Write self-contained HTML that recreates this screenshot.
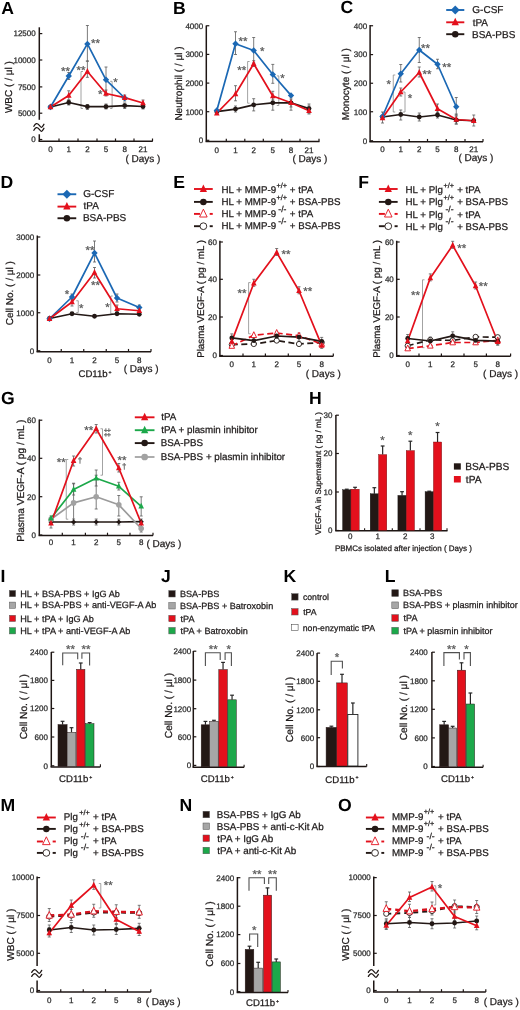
<!DOCTYPE html>
<html><head><meta charset="utf-8"><title>Figure</title>
<style>html,body{margin:0;padding:0;background:#fff;}svg{display:block;will-change:transform;}
text{font-family:"Liberation Sans", sans-serif;text-rendering:geometricPrecision;}</style></head>
<body><svg width="520" height="1010" viewBox="0 0 520 1010">
<rect width="520" height="1010" fill="#fff"/>
<text x="1.16" y="13.71" font-size="17.6" font-weight="bold" fill="#000">A</text>
<line x1="39.3" y1="27.3" x2="39.3" y2="119.8" stroke="#1e1614" stroke-width="1.5"/>
<line x1="39.3" y1="134.3" x2="39.3" y2="141.3" stroke="#1e1614" stroke-width="1.5"/>
<path d="M33.9 126.3 C35.3 123.5 36.9 122.4 39.3 125.3 S41.5 128.2 43.9 124.3" fill="none" stroke="#1e1614" stroke-width="1.3" stroke-linecap="round"/>
<path d="M33.9 130.3 C35.3 127.5 36.9 126.4 39.3 129.3 S41.5 132.2 43.9 128.3" fill="none" stroke="#1e1614" stroke-width="1.3" stroke-linecap="round"/>
<line x1="39.3" y1="33.6" x2="42.3" y2="33.6" stroke="#1e1614" stroke-width="1.2"/>
<text x="13.47" y="36.4" font-size="8" fill="#2a2a2a" stroke="#2a2a2a" stroke-width="0.25">12500</text>
<line x1="39.3" y1="60" x2="42.3" y2="60" stroke="#1e1614" stroke-width="1.2"/>
<text x="13.47" y="62.8" font-size="8" fill="#2a2a2a" stroke="#2a2a2a" stroke-width="0.25">10000</text>
<line x1="39.3" y1="86.9" x2="42.3" y2="86.9" stroke="#1e1614" stroke-width="1.2"/>
<text x="17.92" y="89.7" font-size="8" fill="#2a2a2a" stroke="#2a2a2a" stroke-width="0.25">7500</text>
<line x1="39.3" y1="113.2" x2="42.3" y2="113.2" stroke="#1e1614" stroke-width="1.2"/>
<text x="17.92" y="116" font-size="8" fill="#2a2a2a" stroke="#2a2a2a" stroke-width="0.25">5000</text>
<line x1="39.3" y1="139.5" x2="42.3" y2="139.5" stroke="#1e1614" stroke-width="1.2"/>
<text x="31.26" y="142.3" font-size="8" fill="#2a2a2a" stroke="#2a2a2a" stroke-width="0.25">0</text>
<line x1="38.55" y1="141.3" x2="152.7" y2="141.3" stroke="#1e1614" stroke-width="1.5"/>
<line x1="59" y1="141.3" x2="59" y2="138.5" stroke="#1e1614" stroke-width="1.2"/>
<line x1="78" y1="141.3" x2="78" y2="138.5" stroke="#1e1614" stroke-width="1.2"/>
<line x1="97" y1="141.3" x2="97" y2="138.5" stroke="#1e1614" stroke-width="1.2"/>
<line x1="115.5" y1="141.3" x2="115.5" y2="138.5" stroke="#1e1614" stroke-width="1.2"/>
<line x1="134" y1="141.3" x2="134" y2="138.5" stroke="#1e1614" stroke-width="1.2"/>
<line x1="152.5" y1="141.3" x2="152.5" y2="138.5" stroke="#1e1614" stroke-width="1.2"/>
<text x="48.28" y="152.1" font-size="8" fill="#2a2a2a" stroke="#2a2a2a" stroke-width="0.25">0</text>
<text x="66.42" y="152.1" font-size="8" fill="#2a2a2a" stroke="#2a2a2a" stroke-width="0.25">1</text>
<text x="85.18" y="152.1" font-size="8" fill="#2a2a2a" stroke="#2a2a2a" stroke-width="0.25">2</text>
<text x="103.78" y="152.1" font-size="8" fill="#2a2a2a" stroke="#2a2a2a" stroke-width="0.25">5</text>
<text x="122.48" y="152.1" font-size="8" fill="#2a2a2a" stroke="#2a2a2a" stroke-width="0.25">8</text>
<text x="138.54" y="152.1" font-size="8" fill="#2a2a2a" stroke="#2a2a2a" stroke-width="0.25">21</text>
<text x="125.38" y="161.5" font-size="10" fill="#1e1a1a" stroke="#1e1a1a" stroke-width="0.25">( Days )</text>
<text x="0" y="0" font-size="10" fill="#1e1a1a" transform="translate(11.74 113.09) rotate(-90)" stroke="#1e1a1a" stroke-width="0.25">WBC ( / μl )</text>
<line x1="87.4" y1="25.5" x2="87.4" y2="61" stroke="#5a5a5a" stroke-width="0.8"/>
<line x1="85.9" y1="25.5" x2="88.9" y2="25.5" stroke="#5a5a5a" stroke-width="0.8"/>
<line x1="85.9" y1="61" x2="88.9" y2="61" stroke="#5a5a5a" stroke-width="0.8"/>
<line x1="68.75" y1="72.5" x2="68.75" y2="79.5" stroke="#5a5a5a" stroke-width="0.8"/>
<line x1="67.25" y1="72.5" x2="70.25" y2="72.5" stroke="#5a5a5a" stroke-width="0.8"/>
<line x1="67.25" y1="79.5" x2="70.25" y2="79.5" stroke="#5a5a5a" stroke-width="0.8"/>
<line x1="106" y1="67" x2="106" y2="93.5" stroke="#5a5a5a" stroke-width="0.8"/>
<line x1="104.5" y1="67" x2="107.5" y2="67" stroke="#5a5a5a" stroke-width="0.8"/>
<line x1="104.5" y1="93.5" x2="107.5" y2="93.5" stroke="#5a5a5a" stroke-width="0.8"/>
<line x1="124.7" y1="95" x2="124.7" y2="101" stroke="#5a5a5a" stroke-width="0.8"/>
<line x1="123.2" y1="95" x2="126.2" y2="95" stroke="#5a5a5a" stroke-width="0.8"/>
<line x1="123.2" y1="101" x2="126.2" y2="101" stroke="#5a5a5a" stroke-width="0.8"/>
<line x1="87.4" y1="61.2" x2="87.4" y2="77.3" stroke="#5a5a5a" stroke-width="0.8"/>
<line x1="85.9" y1="61.2" x2="88.9" y2="61.2" stroke="#5a5a5a" stroke-width="0.8"/>
<line x1="85.9" y1="77.3" x2="88.9" y2="77.3" stroke="#5a5a5a" stroke-width="0.8"/>
<line x1="68.75" y1="90.8" x2="68.75" y2="100" stroke="#5a5a5a" stroke-width="0.8"/>
<line x1="67.25" y1="90.8" x2="70.25" y2="90.8" stroke="#5a5a5a" stroke-width="0.8"/>
<line x1="67.25" y1="100" x2="70.25" y2="100" stroke="#5a5a5a" stroke-width="0.8"/>
<line x1="106" y1="90" x2="106" y2="96" stroke="#5a5a5a" stroke-width="0.8"/>
<line x1="104.5" y1="90" x2="107.5" y2="90" stroke="#5a5a5a" stroke-width="0.8"/>
<line x1="104.5" y1="96" x2="107.5" y2="96" stroke="#5a5a5a" stroke-width="0.8"/>
<line x1="143" y1="100" x2="143" y2="107" stroke="#5a5a5a" stroke-width="0.8"/>
<line x1="141.5" y1="100" x2="144.5" y2="100" stroke="#5a5a5a" stroke-width="0.8"/>
<line x1="141.5" y1="107" x2="144.5" y2="107" stroke="#5a5a5a" stroke-width="0.8"/>
<line x1="68.75" y1="100" x2="68.75" y2="105" stroke="#5a5a5a" stroke-width="0.8"/>
<line x1="67.25" y1="100" x2="70.25" y2="100" stroke="#5a5a5a" stroke-width="0.8"/>
<line x1="67.25" y1="105" x2="70.25" y2="105" stroke="#5a5a5a" stroke-width="0.8"/>
<line x1="87.4" y1="104.5" x2="87.4" y2="109.5" stroke="#5a5a5a" stroke-width="0.8"/>
<line x1="85.9" y1="104.5" x2="88.9" y2="104.5" stroke="#5a5a5a" stroke-width="0.8"/>
<line x1="85.9" y1="109.5" x2="88.9" y2="109.5" stroke="#5a5a5a" stroke-width="0.8"/>
<line x1="106" y1="104" x2="106" y2="109" stroke="#5a5a5a" stroke-width="0.8"/>
<line x1="104.5" y1="104" x2="107.5" y2="104" stroke="#5a5a5a" stroke-width="0.8"/>
<line x1="104.5" y1="109" x2="107.5" y2="109" stroke="#5a5a5a" stroke-width="0.8"/>
<line x1="124.7" y1="103" x2="124.7" y2="108.5" stroke="#5a5a5a" stroke-width="0.8"/>
<line x1="123.2" y1="103" x2="126.2" y2="103" stroke="#5a5a5a" stroke-width="0.8"/>
<line x1="123.2" y1="108.5" x2="126.2" y2="108.5" stroke="#5a5a5a" stroke-width="0.8"/>
<line x1="143" y1="104" x2="143" y2="109" stroke="#5a5a5a" stroke-width="0.8"/>
<line x1="141.5" y1="104" x2="144.5" y2="104" stroke="#5a5a5a" stroke-width="0.8"/>
<line x1="141.5" y1="109" x2="144.5" y2="109" stroke="#5a5a5a" stroke-width="0.8"/>
<path d="M83 71.5H81V108.5H83" fill="none" stroke="#8c8c8c" stroke-width="0.8"/>
<path d="M110.1 81.3H112.1V108.5H110.1" fill="none" stroke="#8c8c8c" stroke-width="0.8"/>
<polyline points="50.5,107 68.75,102.5 87.4,106.7 106,106.7 124.7,105.6 143,106.5" fill="none" stroke="#231815" stroke-width="1.7" stroke-linejoin="round"/>
<polyline points="50.5,107 68.75,76 87.4,43.9 106,79.8 124.7,98" fill="none" stroke="#1b68b4" stroke-width="1.7" stroke-linejoin="round"/>
<polyline points="50.5,107 68.75,95.5 87.4,71.5 106,93.5 124.7,97.6 143,103" fill="none" stroke="#e3101c" stroke-width="1.7" stroke-linejoin="round"/>
<circle cx="50.5" cy="107" r="2.4" fill="#231815"/>
<circle cx="68.75" cy="102.5" r="2.4" fill="#231815"/>
<circle cx="87.4" cy="106.7" r="2.4" fill="#231815"/>
<circle cx="106" cy="106.7" r="2.4" fill="#231815"/>
<circle cx="124.7" cy="105.6" r="2.4" fill="#231815"/>
<circle cx="143" cy="106.5" r="2.4" fill="#231815"/>
<path d="M50.5 103.8L53.7 107L50.5 110.2L47.3 107Z" fill="#1b68b4"/>
<path d="M68.75 72.8L71.95 76L68.75 79.2L65.55 76Z" fill="#1b68b4"/>
<path d="M87.4 40.7L90.6 43.9L87.4 47.1L84.2 43.9Z" fill="#1b68b4"/>
<path d="M106 76.6L109.2 79.8L106 83L102.8 79.8Z" fill="#1b68b4"/>
<path d="M124.7 94.8L127.9 98L124.7 101.2L121.5 98Z" fill="#1b68b4"/>
<path d="M50.5 103.52L53.3 109.32L47.7 109.32Z" fill="#e3101c"/>
<path d="M68.75 92.02L71.55 97.82L65.95 97.82Z" fill="#e3101c"/>
<path d="M87.4 68.02L90.2 73.82L84.6 73.82Z" fill="#e3101c"/>
<path d="M106 90.02L108.8 95.82L103.2 95.82Z" fill="#e3101c"/>
<path d="M124.7 94.12L127.5 99.92L121.9 99.92Z" fill="#e3101c"/>
<path d="M143 99.52L145.8 105.32L140.2 105.32Z" fill="#e3101c"/>
<text x="91.02" y="46.7" font-size="11.5" fill="#585858" stroke="#585858" stroke-width="0.25">**</text>
<text x="61.02" y="75.4" font-size="11.5" fill="#585858" stroke="#585858" stroke-width="0.25">**</text>
<text x="76.62" y="74.1" font-size="11.5" fill="#585858" stroke="#585858" stroke-width="0.25">**</text>
<text x="113.36" y="85.7" font-size="11.5" fill="#585858" stroke="#585858" stroke-width="0.25">*</text>
<text x="97.96" y="98.2" font-size="11.5" fill="#585858" stroke="#585858" stroke-width="0.25">*</text>
<text x="172.92" y="13.71" font-size="17.6" font-weight="bold" fill="#000">B</text>
<line x1="206.3" y1="25.5" x2="206.3" y2="141.5" stroke="#1e1614" stroke-width="1.5"/>
<line x1="206.3" y1="25.75" x2="209.3" y2="25.75" stroke="#1e1614" stroke-width="1.2"/>
<text x="185.42" y="28.55" font-size="8" fill="#2a2a2a" stroke="#2a2a2a" stroke-width="0.25">4000</text>
<line x1="206.3" y1="54.4" x2="209.3" y2="54.4" stroke="#1e1614" stroke-width="1.2"/>
<text x="185.42" y="57.2" font-size="8" fill="#2a2a2a" stroke="#2a2a2a" stroke-width="0.25">3000</text>
<line x1="206.3" y1="83.1" x2="209.3" y2="83.1" stroke="#1e1614" stroke-width="1.2"/>
<text x="185.42" y="85.9" font-size="8" fill="#2a2a2a" stroke="#2a2a2a" stroke-width="0.25">2000</text>
<line x1="206.3" y1="111.7" x2="209.3" y2="111.7" stroke="#1e1614" stroke-width="1.2"/>
<text x="185.42" y="114.5" font-size="8" fill="#2a2a2a" stroke="#2a2a2a" stroke-width="0.25">1000</text>
<line x1="206.3" y1="140.3" x2="209.3" y2="140.3" stroke="#1e1614" stroke-width="1.2"/>
<text x="198.76" y="143.1" font-size="8" fill="#2a2a2a" stroke="#2a2a2a" stroke-width="0.25">0</text>
<line x1="205.55" y1="141.5" x2="319.5" y2="141.5" stroke="#1e1614" stroke-width="1.5"/>
<line x1="226.3" y1="141.5" x2="226.3" y2="138.7" stroke="#1e1614" stroke-width="1.2"/>
<line x1="244.8" y1="141.5" x2="244.8" y2="138.7" stroke="#1e1614" stroke-width="1.2"/>
<line x1="263.3" y1="141.5" x2="263.3" y2="138.7" stroke="#1e1614" stroke-width="1.2"/>
<line x1="281.8" y1="141.5" x2="281.8" y2="138.7" stroke="#1e1614" stroke-width="1.2"/>
<line x1="300" y1="141.5" x2="300" y2="138.7" stroke="#1e1614" stroke-width="1.2"/>
<line x1="319" y1="141.5" x2="319" y2="138.7" stroke="#1e1614" stroke-width="1.2"/>
<text x="214.58" y="152.8" font-size="8" fill="#2a2a2a" stroke="#2a2a2a" stroke-width="0.25">0</text>
<text x="233.17" y="152.8" font-size="8" fill="#2a2a2a" stroke="#2a2a2a" stroke-width="0.25">1</text>
<text x="251.48" y="152.8" font-size="8" fill="#2a2a2a" stroke="#2a2a2a" stroke-width="0.25">2</text>
<text x="270.58" y="152.8" font-size="8" fill="#2a2a2a" stroke="#2a2a2a" stroke-width="0.25">5</text>
<text x="288.78" y="152.8" font-size="8" fill="#2a2a2a" stroke="#2a2a2a" stroke-width="0.25">8</text>
<text x="304.54" y="152.8" font-size="8" fill="#2a2a2a" stroke="#2a2a2a" stroke-width="0.25">21</text>
<text x="292.38" y="161.5" font-size="10" fill="#1e1a1a" stroke="#1e1a1a" stroke-width="0.25">( Days )</text>
<text x="0" y="0" font-size="10" fill="#1e1a1a" transform="translate(181.69 120.61) rotate(-90)" stroke="#1e1a1a" stroke-width="0.25">Neutrophil ( / μl )</text>
<line x1="235.5" y1="31.75" x2="235.5" y2="54.5" stroke="#5a5a5a" stroke-width="0.8"/>
<line x1="234" y1="31.75" x2="237" y2="31.75" stroke="#5a5a5a" stroke-width="0.8"/>
<line x1="234" y1="54.5" x2="237" y2="54.5" stroke="#5a5a5a" stroke-width="0.8"/>
<line x1="253.7" y1="37.5" x2="253.7" y2="63" stroke="#5a5a5a" stroke-width="0.8"/>
<line x1="252.2" y1="37.5" x2="255.2" y2="37.5" stroke="#5a5a5a" stroke-width="0.8"/>
<line x1="252.2" y1="63" x2="255.2" y2="63" stroke="#5a5a5a" stroke-width="0.8"/>
<line x1="272.8" y1="64.4" x2="272.8" y2="83.3" stroke="#5a5a5a" stroke-width="0.8"/>
<line x1="271.3" y1="64.4" x2="274.3" y2="64.4" stroke="#5a5a5a" stroke-width="0.8"/>
<line x1="271.3" y1="83.3" x2="274.3" y2="83.3" stroke="#5a5a5a" stroke-width="0.8"/>
<line x1="235.5" y1="85.7" x2="235.5" y2="100.8" stroke="#5a5a5a" stroke-width="0.8"/>
<line x1="234" y1="85.7" x2="237" y2="85.7" stroke="#5a5a5a" stroke-width="0.8"/>
<line x1="234" y1="100.8" x2="237" y2="100.8" stroke="#5a5a5a" stroke-width="0.8"/>
<line x1="253.7" y1="60.7" x2="253.7" y2="66.5" stroke="#5a5a5a" stroke-width="0.8"/>
<line x1="252.2" y1="60.7" x2="255.2" y2="60.7" stroke="#5a5a5a" stroke-width="0.8"/>
<line x1="252.2" y1="66.5" x2="255.2" y2="66.5" stroke="#5a5a5a" stroke-width="0.8"/>
<line x1="272.8" y1="91.3" x2="272.8" y2="100" stroke="#5a5a5a" stroke-width="0.8"/>
<line x1="271.3" y1="91.3" x2="274.3" y2="91.3" stroke="#5a5a5a" stroke-width="0.8"/>
<line x1="271.3" y1="100" x2="274.3" y2="100" stroke="#5a5a5a" stroke-width="0.8"/>
<line x1="291" y1="99" x2="291" y2="107" stroke="#5a5a5a" stroke-width="0.8"/>
<line x1="289.5" y1="99" x2="292.5" y2="99" stroke="#5a5a5a" stroke-width="0.8"/>
<line x1="289.5" y1="107" x2="292.5" y2="107" stroke="#5a5a5a" stroke-width="0.8"/>
<line x1="309" y1="106" x2="309" y2="114" stroke="#5a5a5a" stroke-width="0.8"/>
<line x1="307.5" y1="106" x2="310.5" y2="106" stroke="#5a5a5a" stroke-width="0.8"/>
<line x1="307.5" y1="114" x2="310.5" y2="114" stroke="#5a5a5a" stroke-width="0.8"/>
<line x1="235.5" y1="106" x2="235.5" y2="112" stroke="#5a5a5a" stroke-width="0.8"/>
<line x1="234" y1="106" x2="237" y2="106" stroke="#5a5a5a" stroke-width="0.8"/>
<line x1="234" y1="112" x2="237" y2="112" stroke="#5a5a5a" stroke-width="0.8"/>
<line x1="253.7" y1="98.7" x2="253.7" y2="110.9" stroke="#5a5a5a" stroke-width="0.8"/>
<line x1="252.2" y1="98.7" x2="255.2" y2="98.7" stroke="#5a5a5a" stroke-width="0.8"/>
<line x1="252.2" y1="110.9" x2="255.2" y2="110.9" stroke="#5a5a5a" stroke-width="0.8"/>
<line x1="272.8" y1="96.7" x2="272.8" y2="110.2" stroke="#5a5a5a" stroke-width="0.8"/>
<line x1="271.3" y1="96.7" x2="274.3" y2="96.7" stroke="#5a5a5a" stroke-width="0.8"/>
<line x1="271.3" y1="110.2" x2="274.3" y2="110.2" stroke="#5a5a5a" stroke-width="0.8"/>
<line x1="291" y1="97" x2="291" y2="110.2" stroke="#5a5a5a" stroke-width="0.8"/>
<line x1="289.5" y1="97" x2="292.5" y2="97" stroke="#5a5a5a" stroke-width="0.8"/>
<line x1="289.5" y1="110.2" x2="292.5" y2="110.2" stroke="#5a5a5a" stroke-width="0.8"/>
<line x1="309" y1="104" x2="309" y2="113" stroke="#5a5a5a" stroke-width="0.8"/>
<line x1="307.5" y1="104" x2="310.5" y2="104" stroke="#5a5a5a" stroke-width="0.8"/>
<line x1="307.5" y1="113" x2="310.5" y2="113" stroke="#5a5a5a" stroke-width="0.8"/>
<path d="M249.6 61.5H247.6V103.2H249.6" fill="none" stroke="#8c8c8c" stroke-width="0.8"/>
<path d="M276.8 75.9H278.8V105.5H276.8" fill="none" stroke="#8c8c8c" stroke-width="0.8"/>
<polyline points="216.8,111.7 235.5,109.1 253.7,104.8 272.8,102.8 291,102.8 309,108.6" fill="none" stroke="#231815" stroke-width="1.7" stroke-linejoin="round"/>
<polyline points="216.8,110.5 235.5,43.75 253.7,50.5 272.8,74.5 291,95.4" fill="none" stroke="#1b68b4" stroke-width="1.7" stroke-linejoin="round"/>
<polyline points="216.8,113.2 235.5,94 253.7,63.7 272.8,96 291,102.8 309,110.8" fill="none" stroke="#e3101c" stroke-width="1.7" stroke-linejoin="round"/>
<circle cx="216.8" cy="111.7" r="2.4" fill="#231815"/>
<circle cx="235.5" cy="109.1" r="2.4" fill="#231815"/>
<circle cx="253.7" cy="104.8" r="2.4" fill="#231815"/>
<circle cx="272.8" cy="102.8" r="2.4" fill="#231815"/>
<circle cx="291" cy="102.8" r="2.4" fill="#231815"/>
<circle cx="309" cy="108.6" r="2.4" fill="#231815"/>
<path d="M216.8 107.3L220 110.5L216.8 113.7L213.6 110.5Z" fill="#1b68b4"/>
<path d="M235.5 40.55L238.7 43.75L235.5 46.95L232.3 43.75Z" fill="#1b68b4"/>
<path d="M253.7 47.3L256.9 50.5L253.7 53.7L250.5 50.5Z" fill="#1b68b4"/>
<path d="M272.8 71.3L276 74.5L272.8 77.7L269.6 74.5Z" fill="#1b68b4"/>
<path d="M291 92.2L294.2 95.4L291 98.6L287.8 95.4Z" fill="#1b68b4"/>
<path d="M216.8 109.72L219.6 115.52L214 115.52Z" fill="#e3101c"/>
<path d="M235.5 90.52L238.3 96.32L232.7 96.32Z" fill="#e3101c"/>
<path d="M253.7 60.22L256.5 66.02L250.9 66.02Z" fill="#e3101c"/>
<path d="M272.8 92.52L275.6 98.32L270 98.32Z" fill="#e3101c"/>
<path d="M291 99.32L293.8 105.12L288.2 105.12Z" fill="#e3101c"/>
<path d="M309 107.32L311.8 113.12L306.2 113.12Z" fill="#e3101c"/>
<text x="238.42" y="44.65" font-size="11.5" fill="#585858" stroke="#585858" stroke-width="0.25">**</text>
<text x="260.06" y="55.4" font-size="11.5" fill="#585858" stroke="#585858" stroke-width="0.25">*</text>
<text x="237.32" y="74.1" font-size="11.5" fill="#585858" stroke="#585858" stroke-width="0.25">**</text>
<text x="280.36" y="81.8" font-size="11.5" fill="#585858" stroke="#585858" stroke-width="0.25">*</text>
<text x="340.48" y="13.31" font-size="17.6" font-weight="bold" fill="#000">C</text>
<line x1="370.1" y1="25" x2="370.1" y2="141.75" stroke="#1e1614" stroke-width="1.5"/>
<line x1="370.1" y1="25.75" x2="373.1" y2="25.75" stroke="#1e1614" stroke-width="1.2"/>
<text x="353.76" y="28.55" font-size="8" fill="#2a2a2a" stroke="#2a2a2a" stroke-width="0.25">400</text>
<line x1="370.1" y1="54.6" x2="373.1" y2="54.6" stroke="#1e1614" stroke-width="1.2"/>
<text x="353.76" y="57.4" font-size="8" fill="#2a2a2a" stroke="#2a2a2a" stroke-width="0.25">300</text>
<line x1="370.1" y1="83.25" x2="373.1" y2="83.25" stroke="#1e1614" stroke-width="1.2"/>
<text x="353.76" y="86.05" font-size="8" fill="#2a2a2a" stroke="#2a2a2a" stroke-width="0.25">200</text>
<line x1="370.1" y1="111.75" x2="373.1" y2="111.75" stroke="#1e1614" stroke-width="1.2"/>
<text x="353.76" y="114.55" font-size="8" fill="#2a2a2a" stroke="#2a2a2a" stroke-width="0.25">100</text>
<line x1="370.1" y1="140.75" x2="373.1" y2="140.75" stroke="#1e1614" stroke-width="1.2"/>
<text x="362.66" y="143.55" font-size="8" fill="#2a2a2a" stroke="#2a2a2a" stroke-width="0.25">0</text>
<line x1="369.35" y1="141.75" x2="483" y2="141.75" stroke="#1e1614" stroke-width="1.5"/>
<line x1="390" y1="141.75" x2="390" y2="138.95" stroke="#1e1614" stroke-width="1.2"/>
<line x1="409.25" y1="141.75" x2="409.25" y2="138.95" stroke="#1e1614" stroke-width="1.2"/>
<line x1="427.5" y1="141.75" x2="427.5" y2="138.95" stroke="#1e1614" stroke-width="1.2"/>
<line x1="446.25" y1="141.75" x2="446.25" y2="138.95" stroke="#1e1614" stroke-width="1.2"/>
<line x1="465" y1="141.75" x2="465" y2="138.95" stroke="#1e1614" stroke-width="1.2"/>
<line x1="483" y1="141.75" x2="483" y2="138.95" stroke="#1e1614" stroke-width="1.2"/>
<text x="380.28" y="152.3" font-size="8" fill="#2a2a2a" stroke="#2a2a2a" stroke-width="0.25">0</text>
<text x="398.42" y="152.3" font-size="8" fill="#2a2a2a" stroke="#2a2a2a" stroke-width="0.25">1</text>
<text x="417.03" y="152.3" font-size="8" fill="#2a2a2a" stroke="#2a2a2a" stroke-width="0.25">2</text>
<text x="435.28" y="152.3" font-size="8" fill="#2a2a2a" stroke="#2a2a2a" stroke-width="0.25">5</text>
<text x="454.03" y="152.3" font-size="8" fill="#2a2a2a" stroke="#2a2a2a" stroke-width="0.25">8</text>
<text x="469.29" y="152.3" font-size="8" fill="#2a2a2a" stroke="#2a2a2a" stroke-width="0.25">21</text>
<text x="458.38" y="161" font-size="10" fill="#1e1a1a" stroke="#1e1a1a" stroke-width="0.25">( Days )</text>
<text x="0" y="0" font-size="10" fill="#1e1a1a" transform="translate(349.24 120.14) rotate(-90)" stroke="#1e1a1a" stroke-width="0.25">Monocyte ( / μl )</text>
<line x1="400.75" y1="64.5" x2="400.75" y2="82" stroke="#5a5a5a" stroke-width="0.8"/>
<line x1="399.25" y1="64.5" x2="402.25" y2="64.5" stroke="#5a5a5a" stroke-width="0.8"/>
<line x1="399.25" y1="82" x2="402.25" y2="82" stroke="#5a5a5a" stroke-width="0.8"/>
<line x1="419.25" y1="37.5" x2="419.25" y2="62.5" stroke="#5a5a5a" stroke-width="0.8"/>
<line x1="417.75" y1="37.5" x2="420.75" y2="37.5" stroke="#5a5a5a" stroke-width="0.8"/>
<line x1="417.75" y1="62.5" x2="420.75" y2="62.5" stroke="#5a5a5a" stroke-width="0.8"/>
<line x1="437.5" y1="59.25" x2="437.5" y2="68.75" stroke="#5a5a5a" stroke-width="0.8"/>
<line x1="436" y1="59.25" x2="439" y2="59.25" stroke="#5a5a5a" stroke-width="0.8"/>
<line x1="436" y1="68.75" x2="439" y2="68.75" stroke="#5a5a5a" stroke-width="0.8"/>
<line x1="456.25" y1="97.5" x2="456.25" y2="115" stroke="#5a5a5a" stroke-width="0.8"/>
<line x1="454.75" y1="97.5" x2="457.75" y2="97.5" stroke="#5a5a5a" stroke-width="0.8"/>
<line x1="454.75" y1="115" x2="457.75" y2="115" stroke="#5a5a5a" stroke-width="0.8"/>
<line x1="400.75" y1="88" x2="400.75" y2="96" stroke="#5a5a5a" stroke-width="0.8"/>
<line x1="399.25" y1="88" x2="402.25" y2="88" stroke="#5a5a5a" stroke-width="0.8"/>
<line x1="399.25" y1="96" x2="402.25" y2="96" stroke="#5a5a5a" stroke-width="0.8"/>
<line x1="419.25" y1="67" x2="419.25" y2="77" stroke="#5a5a5a" stroke-width="0.8"/>
<line x1="417.75" y1="67" x2="420.75" y2="67" stroke="#5a5a5a" stroke-width="0.8"/>
<line x1="417.75" y1="77" x2="420.75" y2="77" stroke="#5a5a5a" stroke-width="0.8"/>
<line x1="437.5" y1="104" x2="437.5" y2="113" stroke="#5a5a5a" stroke-width="0.8"/>
<line x1="436" y1="104" x2="439" y2="104" stroke="#5a5a5a" stroke-width="0.8"/>
<line x1="436" y1="113" x2="439" y2="113" stroke="#5a5a5a" stroke-width="0.8"/>
<line x1="456.25" y1="114" x2="456.25" y2="124" stroke="#5a5a5a" stroke-width="0.8"/>
<line x1="454.75" y1="114" x2="457.75" y2="114" stroke="#5a5a5a" stroke-width="0.8"/>
<line x1="454.75" y1="124" x2="457.75" y2="124" stroke="#5a5a5a" stroke-width="0.8"/>
<line x1="473.75" y1="115" x2="473.75" y2="126" stroke="#5a5a5a" stroke-width="0.8"/>
<line x1="472.25" y1="115" x2="475.25" y2="115" stroke="#5a5a5a" stroke-width="0.8"/>
<line x1="472.25" y1="126" x2="475.25" y2="126" stroke="#5a5a5a" stroke-width="0.8"/>
<line x1="382.5" y1="112" x2="382.5" y2="123" stroke="#5a5a5a" stroke-width="0.8"/>
<line x1="381" y1="112" x2="384" y2="112" stroke="#5a5a5a" stroke-width="0.8"/>
<line x1="381" y1="123" x2="384" y2="123" stroke="#5a5a5a" stroke-width="0.8"/>
<line x1="400.75" y1="110" x2="400.75" y2="120" stroke="#5a5a5a" stroke-width="0.8"/>
<line x1="399.25" y1="110" x2="402.25" y2="110" stroke="#5a5a5a" stroke-width="0.8"/>
<line x1="399.25" y1="120" x2="402.25" y2="120" stroke="#5a5a5a" stroke-width="0.8"/>
<line x1="419.25" y1="113" x2="419.25" y2="121" stroke="#5a5a5a" stroke-width="0.8"/>
<line x1="417.75" y1="113" x2="420.75" y2="113" stroke="#5a5a5a" stroke-width="0.8"/>
<line x1="417.75" y1="121" x2="420.75" y2="121" stroke="#5a5a5a" stroke-width="0.8"/>
<line x1="437.5" y1="112" x2="437.5" y2="118" stroke="#5a5a5a" stroke-width="0.8"/>
<line x1="436" y1="112" x2="439" y2="112" stroke="#5a5a5a" stroke-width="0.8"/>
<line x1="436" y1="118" x2="439" y2="118" stroke="#5a5a5a" stroke-width="0.8"/>
<line x1="456.25" y1="116" x2="456.25" y2="124" stroke="#5a5a5a" stroke-width="0.8"/>
<line x1="454.75" y1="116" x2="457.75" y2="116" stroke="#5a5a5a" stroke-width="0.8"/>
<line x1="454.75" y1="124" x2="457.75" y2="124" stroke="#5a5a5a" stroke-width="0.8"/>
<path d="M395.25 75H393.25V112H395.25" fill="none" stroke="#8c8c8c" stroke-width="0.8"/>
<path d="M403 92H405V112H403" fill="none" stroke="#8c8c8c" stroke-width="0.8"/>
<polyline points="382.5,117 400.75,114.5 419.25,117 437.5,115 456.25,120 473.75,120.75" fill="none" stroke="#231815" stroke-width="1.7" stroke-linejoin="round"/>
<polyline points="382.5,116.5 400.75,73.75 419.25,50 437.5,64.25 456.25,106.75" fill="none" stroke="#1b68b4" stroke-width="1.7" stroke-linejoin="round"/>
<polyline points="382.5,118 400.75,92 419.25,72.5 437.5,108.75 456.25,119.5 473.75,120.75" fill="none" stroke="#e3101c" stroke-width="1.7" stroke-linejoin="round"/>
<circle cx="382.5" cy="117" r="2.4" fill="#231815"/>
<circle cx="400.75" cy="114.5" r="2.4" fill="#231815"/>
<circle cx="419.25" cy="117" r="2.4" fill="#231815"/>
<circle cx="437.5" cy="115" r="2.4" fill="#231815"/>
<circle cx="456.25" cy="120" r="2.4" fill="#231815"/>
<circle cx="473.75" cy="120.75" r="2.4" fill="#231815"/>
<path d="M382.5 113.3L385.7 116.5L382.5 119.7L379.3 116.5Z" fill="#1b68b4"/>
<path d="M400.75 70.55L403.95 73.75L400.75 76.95L397.55 73.75Z" fill="#1b68b4"/>
<path d="M419.25 46.8L422.45 50L419.25 53.2L416.05 50Z" fill="#1b68b4"/>
<path d="M437.5 61.05L440.7 64.25L437.5 67.45L434.3 64.25Z" fill="#1b68b4"/>
<path d="M456.25 103.55L459.45 106.75L456.25 109.95L453.05 106.75Z" fill="#1b68b4"/>
<path d="M382.5 114.52L385.3 120.32L379.7 120.32Z" fill="#e3101c"/>
<path d="M400.75 88.52L403.55 94.32L397.95 94.32Z" fill="#e3101c"/>
<path d="M419.25 69.02L422.05 74.82L416.45 74.82Z" fill="#e3101c"/>
<path d="M437.5 105.27L440.3 111.07L434.7 111.07Z" fill="#e3101c"/>
<path d="M456.25 116.02L459.05 121.82L453.45 121.82Z" fill="#e3101c"/>
<path d="M473.75 117.27L476.55 123.07L470.95 123.07Z" fill="#e3101c"/>
<text x="421.02" y="51.65" font-size="11.5" fill="#585858" stroke="#585858" stroke-width="0.25">**</text>
<text x="442.27" y="71.4" font-size="11.5" fill="#585858" stroke="#585858" stroke-width="0.25">**</text>
<text x="422.52" y="78.4" font-size="11.5" fill="#585858" stroke="#585858" stroke-width="0.25">**</text>
<text x="386.51" y="88.4" font-size="11.5" fill="#585858" stroke="#585858" stroke-width="0.25">*</text>
<text x="407.76" y="102.15" font-size="11.5" fill="#585858" stroke="#585858" stroke-width="0.25">*</text>
<line x1="446.2" y1="10" x2="464.3" y2="10" stroke="#1b68b4" stroke-width="1.9"/>
<path d="M455.25 5.52L459.73 10L455.25 14.48L450.77 10Z" fill="#1b68b4"/>
<line x1="446.2" y1="22.3" x2="464.3" y2="22.3" stroke="#e3101c" stroke-width="1.9"/>
<path d="M455.25 17.78L458.89 25.32L451.61 25.32Z" fill="#e3101c"/>
<line x1="446.2" y1="34.2" x2="464.3" y2="34.2" stroke="#231815" stroke-width="1.9"/>
<circle cx="455.25" cy="34.2" r="3.24" fill="#231815"/>
<text x="472.3" y="13.1" font-size="10" fill="#1e1a1a" stroke="#1e1a1a" stroke-width="0.25">G-CSF</text>
<text x="472.65" y="25.8" font-size="10" fill="#1e1a1a" stroke="#1e1a1a" stroke-width="0.25">tPA</text>
<text x="471.98" y="37.7" font-size="10" fill="#1e1a1a" stroke="#1e1a1a" stroke-width="0.25">BSA-PBS</text>
<text x="0.42" y="188.41" font-size="17.6" font-weight="bold" fill="#000">D</text>
<line x1="57.5" y1="194.25" x2="76.25" y2="194.25" stroke="#1b68b4" stroke-width="1.9"/>
<path d="M66.88 189.77L71.36 194.25L66.88 198.73L62.4 194.25Z" fill="#1b68b4"/>
<line x1="57.5" y1="206.6" x2="76.25" y2="206.6" stroke="#e3101c" stroke-width="1.9"/>
<path d="M66.88 202.08L70.52 209.62L63.23 209.62Z" fill="#e3101c"/>
<line x1="57.5" y1="218.25" x2="76.25" y2="218.25" stroke="#231815" stroke-width="1.9"/>
<circle cx="66.88" cy="218.25" r="3.24" fill="#231815"/>
<text x="83.25" y="197.4" font-size="10" fill="#1e1a1a" stroke="#1e1a1a" stroke-width="0.25">G-CSF</text>
<text x="83.6" y="209.4" font-size="10" fill="#1e1a1a" stroke="#1e1a1a" stroke-width="0.25">tPA</text>
<text x="82.93" y="221.1" font-size="10" fill="#1e1a1a" stroke="#1e1a1a" stroke-width="0.25">BSA-PBS</text>
<line x1="37.3" y1="235.5" x2="37.3" y2="351.75" stroke="#1e1614" stroke-width="1.5"/>
<line x1="37.3" y1="237" x2="40.3" y2="237" stroke="#1e1614" stroke-width="1.2"/>
<text x="16.32" y="239.8" font-size="8" fill="#2a2a2a" stroke="#2a2a2a" stroke-width="0.25">3000</text>
<line x1="37.3" y1="275" x2="40.3" y2="275" stroke="#1e1614" stroke-width="1.2"/>
<text x="16.32" y="277.8" font-size="8" fill="#2a2a2a" stroke="#2a2a2a" stroke-width="0.25">2000</text>
<line x1="37.3" y1="312.75" x2="40.3" y2="312.75" stroke="#1e1614" stroke-width="1.2"/>
<text x="16.32" y="315.55" font-size="8" fill="#2a2a2a" stroke="#2a2a2a" stroke-width="0.25">1000</text>
<line x1="37.3" y1="350.75" x2="40.3" y2="350.75" stroke="#1e1614" stroke-width="1.2"/>
<text x="29.66" y="353.55" font-size="8" fill="#2a2a2a" stroke="#2a2a2a" stroke-width="0.25">0</text>
<line x1="36.55" y1="351.75" x2="151" y2="351.75" stroke="#1e1614" stroke-width="1.5"/>
<line x1="61.25" y1="351.75" x2="61.25" y2="348.95" stroke="#1e1614" stroke-width="1.2"/>
<line x1="83.75" y1="351.75" x2="83.75" y2="348.95" stroke="#1e1614" stroke-width="1.2"/>
<line x1="106.25" y1="351.75" x2="106.25" y2="348.95" stroke="#1e1614" stroke-width="1.2"/>
<line x1="128.5" y1="351.75" x2="128.5" y2="348.95" stroke="#1e1614" stroke-width="1.2"/>
<line x1="151" y1="351.75" x2="151" y2="348.95" stroke="#1e1614" stroke-width="1.2"/>
<text x="47.28" y="363" font-size="8" fill="#2a2a2a" stroke="#2a2a2a" stroke-width="0.25">0</text>
<text x="69.67" y="363" font-size="8" fill="#2a2a2a" stroke="#2a2a2a" stroke-width="0.25">1</text>
<text x="92.28" y="363" font-size="8" fill="#2a2a2a" stroke="#2a2a2a" stroke-width="0.25">2</text>
<text x="114.78" y="363" font-size="8" fill="#2a2a2a" stroke="#2a2a2a" stroke-width="0.25">5</text>
<text x="137.08" y="363" font-size="8" fill="#2a2a2a" stroke="#2a2a2a" stroke-width="0.25">8</text>
<text x="78.52" y="377.11" font-size="9.6" fill="#1e1a1a" stroke="#1e1a1a" stroke-width="0.25">CD11b</text>
<text x="108.6" y="373.55" font-size="5.2" fill="#1e1a1a" stroke="#1e1a1a" stroke-width="0.25">+</text>
<text x="123.68" y="372.3" font-size="10" fill="#1e1a1a" stroke="#1e1a1a" stroke-width="0.25">( Days )</text>
<text x="0" y="0" font-size="10" fill="#1e1a1a" transform="translate(12.69 325.24) rotate(-90)" stroke="#1e1a1a" stroke-width="0.25">Cell No. ( / μl )</text>
<line x1="94.5" y1="241" x2="94.5" y2="262" stroke="#5a5a5a" stroke-width="0.8"/>
<line x1="93" y1="241" x2="96" y2="241" stroke="#5a5a5a" stroke-width="0.8"/>
<line x1="93" y1="262" x2="96" y2="262" stroke="#5a5a5a" stroke-width="0.8"/>
<line x1="72" y1="294" x2="72" y2="300" stroke="#5a5a5a" stroke-width="0.8"/>
<line x1="70.5" y1="294" x2="73.5" y2="294" stroke="#5a5a5a" stroke-width="0.8"/>
<line x1="70.5" y1="300" x2="73.5" y2="300" stroke="#5a5a5a" stroke-width="0.8"/>
<line x1="117" y1="294" x2="117" y2="302" stroke="#5a5a5a" stroke-width="0.8"/>
<line x1="115.5" y1="294" x2="118.5" y2="294" stroke="#5a5a5a" stroke-width="0.8"/>
<line x1="115.5" y1="302" x2="118.5" y2="302" stroke="#5a5a5a" stroke-width="0.8"/>
<line x1="139.3" y1="305" x2="139.3" y2="310" stroke="#5a5a5a" stroke-width="0.8"/>
<line x1="137.8" y1="305" x2="140.8" y2="305" stroke="#5a5a5a" stroke-width="0.8"/>
<line x1="137.8" y1="310" x2="140.8" y2="310" stroke="#5a5a5a" stroke-width="0.8"/>
<line x1="94.5" y1="267.5" x2="94.5" y2="278" stroke="#5a5a5a" stroke-width="0.8"/>
<line x1="93" y1="267.5" x2="96" y2="267.5" stroke="#5a5a5a" stroke-width="0.8"/>
<line x1="93" y1="278" x2="96" y2="278" stroke="#5a5a5a" stroke-width="0.8"/>
<line x1="72" y1="298" x2="72" y2="306" stroke="#5a5a5a" stroke-width="0.8"/>
<line x1="70.5" y1="298" x2="73.5" y2="298" stroke="#5a5a5a" stroke-width="0.8"/>
<line x1="70.5" y1="306" x2="73.5" y2="306" stroke="#5a5a5a" stroke-width="0.8"/>
<line x1="117" y1="305" x2="117" y2="312" stroke="#5a5a5a" stroke-width="0.8"/>
<line x1="115.5" y1="305" x2="118.5" y2="305" stroke="#5a5a5a" stroke-width="0.8"/>
<line x1="115.5" y1="312" x2="118.5" y2="312" stroke="#5a5a5a" stroke-width="0.8"/>
<line x1="139.3" y1="308" x2="139.3" y2="313" stroke="#5a5a5a" stroke-width="0.8"/>
<line x1="137.8" y1="308" x2="140.8" y2="308" stroke="#5a5a5a" stroke-width="0.8"/>
<line x1="137.8" y1="313" x2="140.8" y2="313" stroke="#5a5a5a" stroke-width="0.8"/>
<path d="M76.25 300.75H78.25V312.5H76.25" fill="none" stroke="#8c8c8c" stroke-width="0.8"/>
<path d="M112.75 296H110.75V313.75H112.75" fill="none" stroke="#8c8c8c" stroke-width="0.8"/>
<polyline points="49.5,318.5 72,313.75 94.5,316.25 117,313.75 139.3,314.25" fill="none" stroke="#231815" stroke-width="1.7" stroke-linejoin="round"/>
<polyline points="49.5,318.75 72,297 94.5,253 117,298 139.3,307.5" fill="none" stroke="#1b68b4" stroke-width="1.7" stroke-linejoin="round"/>
<polyline points="49.5,318.75 72,302 94.5,272.5 117,308.75 139.3,310.75" fill="none" stroke="#e3101c" stroke-width="1.7" stroke-linejoin="round"/>
<circle cx="49.5" cy="318.5" r="2.4" fill="#231815"/>
<circle cx="72" cy="313.75" r="2.4" fill="#231815"/>
<circle cx="94.5" cy="316.25" r="2.4" fill="#231815"/>
<circle cx="117" cy="313.75" r="2.4" fill="#231815"/>
<circle cx="139.3" cy="314.25" r="2.4" fill="#231815"/>
<path d="M49.5 315.55L52.7 318.75L49.5 321.95L46.3 318.75Z" fill="#1b68b4"/>
<path d="M72 293.8L75.2 297L72 300.2L68.8 297Z" fill="#1b68b4"/>
<path d="M94.5 249.8L97.7 253L94.5 256.2L91.3 253Z" fill="#1b68b4"/>
<path d="M117 294.8L120.2 298L117 301.2L113.8 298Z" fill="#1b68b4"/>
<path d="M139.3 304.3L142.5 307.5L139.3 310.7L136.1 307.5Z" fill="#1b68b4"/>
<path d="M49.5 315.27L52.3 321.07L46.7 321.07Z" fill="#e3101c"/>
<path d="M72 298.52L74.8 304.32L69.2 304.32Z" fill="#e3101c"/>
<path d="M94.5 269.02L97.3 274.82L91.7 274.82Z" fill="#e3101c"/>
<path d="M117 305.27L119.8 311.07L114.2 311.07Z" fill="#e3101c"/>
<path d="M139.3 307.27L142.1 313.07L136.5 313.07Z" fill="#e3101c"/>
<text x="85.52" y="253.9" font-size="11.5" fill="#585858" stroke="#585858" stroke-width="0.25">**</text>
<text x="90.92" y="288.9" font-size="11.5" fill="#585858" stroke="#585858" stroke-width="0.25">**</text>
<text x="64.76" y="298.4" font-size="11.5" fill="#585858" stroke="#585858" stroke-width="0.25">*</text>
<text x="79.01" y="312.15" font-size="11.5" fill="#585858" stroke="#585858" stroke-width="0.25">*</text>
<text x="105.26" y="310.9" font-size="11.5" fill="#585858" stroke="#585858" stroke-width="0.25">*</text>
<text x="173.22" y="188.41" font-size="17.6" font-weight="bold" fill="#000">E</text>
<line x1="194" y1="189" x2="212.75" y2="189" stroke="#e3101c" stroke-width="1.9"/>
<path d="M203.38 184.48L207.01 192.02L199.74 192.02Z" fill="#e3101c"/>
<line x1="194" y1="201.9" x2="212.75" y2="201.9" stroke="#231815" stroke-width="1.9"/>
<circle cx="203.38" cy="201.9" r="3.24" fill="#231815"/>
<line x1="194" y1="213.9" x2="199.97" y2="213.9" stroke="#e3101c" stroke-width="1.9"/>
<line x1="209.68" y1="213.9" x2="212.75" y2="213.9" stroke="#e3101c" stroke-width="1.9"/>
<path d="M203.38 209.2L207.16 217.03L199.59 217.03Z" fill="#fff" stroke="#e3101c" stroke-width="0.9"/>
<line x1="194" y1="226.2" x2="199.97" y2="226.2" stroke="#231815" stroke-width="1.9"/>
<line x1="209.68" y1="226.2" x2="212.75" y2="226.2" stroke="#231815" stroke-width="1.9"/>
<circle cx="203.38" cy="226.2" r="3.38" fill="#fff" stroke="#231815" stroke-width="0.9"/>
<text x="221.5" y="192.91" font-size="9.75" fill="#1e1a1a" stroke="#1e1a1a" stroke-width="0.25">HL + MMP-9</text>
<text x="276.54" y="187.56" font-size="7.3" fill="#1e1a1a" stroke="#1e1a1a" stroke-width="0.25">+/+</text>
<text x="289.82" y="192.91" font-size="9.75" fill="#1e1a1a" stroke="#1e1a1a" stroke-width="0.25">+ tPA</text>
<text x="221.5" y="205.11" font-size="9.75" fill="#1e1a1a" stroke="#1e1a1a" stroke-width="0.25">HL + MMP-9</text>
<text x="276.54" y="199.75" font-size="7.3" fill="#1e1a1a" stroke="#1e1a1a" stroke-width="0.25">+/+</text>
<text x="289.82" y="205.11" font-size="9.75" fill="#1e1a1a" stroke="#1e1a1a" stroke-width="0.25">+ BSA-PBS</text>
<text x="221.5" y="217.41" font-size="9.75" fill="#1e1a1a" stroke="#1e1a1a" stroke-width="0.25">HL + MMP-9</text>
<text x="278.32" y="211.71" font-size="8.6" fill="#1e1a1a" stroke="#1e1a1a" stroke-width="0.25">-/-</text>
<text x="289.82" y="217.41" font-size="9.75" fill="#1e1a1a" stroke="#1e1a1a" stroke-width="0.25">+ tPA</text>
<text x="221.5" y="229.41" font-size="9.75" fill="#1e1a1a" stroke="#1e1a1a" stroke-width="0.25">HL + MMP-9</text>
<text x="278.32" y="223.71" font-size="8.6" fill="#1e1a1a" stroke="#1e1a1a" stroke-width="0.25">-/-</text>
<text x="289.82" y="229.41" font-size="9.75" fill="#1e1a1a" stroke="#1e1a1a" stroke-width="0.25">+ BSA-PBS</text>
<line x1="219.9" y1="240.75" x2="219.9" y2="356.3" stroke="#1e1614" stroke-width="1.5"/>
<line x1="219.9" y1="242" x2="222.9" y2="242" stroke="#1e1614" stroke-width="1.2"/>
<text x="208.11" y="244.8" font-size="8" fill="#2a2a2a" stroke="#2a2a2a" stroke-width="0.25">60</text>
<line x1="219.9" y1="279.3" x2="222.9" y2="279.3" stroke="#1e1614" stroke-width="1.2"/>
<text x="208.11" y="282.1" font-size="8" fill="#2a2a2a" stroke="#2a2a2a" stroke-width="0.25">40</text>
<line x1="219.9" y1="317" x2="222.9" y2="317" stroke="#1e1614" stroke-width="1.2"/>
<text x="208.11" y="319.8" font-size="8" fill="#2a2a2a" stroke="#2a2a2a" stroke-width="0.25">20</text>
<line x1="219.9" y1="355.5" x2="222.9" y2="355.5" stroke="#1e1614" stroke-width="1.2"/>
<text x="212.56" y="358.3" font-size="8" fill="#2a2a2a" stroke="#2a2a2a" stroke-width="0.25">0</text>
<line x1="219.15" y1="356.3" x2="333.3" y2="356.3" stroke="#1e1614" stroke-width="1.5"/>
<line x1="243" y1="356.3" x2="243" y2="353.5" stroke="#1e1614" stroke-width="1.2"/>
<line x1="265.4" y1="356.3" x2="265.4" y2="353.5" stroke="#1e1614" stroke-width="1.2"/>
<line x1="288.3" y1="356.3" x2="288.3" y2="353.5" stroke="#1e1614" stroke-width="1.2"/>
<line x1="310.4" y1="356.3" x2="310.4" y2="353.5" stroke="#1e1614" stroke-width="1.2"/>
<line x1="333.3" y1="356.3" x2="333.3" y2="353.5" stroke="#1e1614" stroke-width="1.2"/>
<text x="229.58" y="366.8" font-size="8" fill="#2a2a2a" stroke="#2a2a2a" stroke-width="0.25">0</text>
<text x="251.47" y="366.8" font-size="8" fill="#2a2a2a" stroke="#2a2a2a" stroke-width="0.25">1</text>
<text x="274.48" y="366.8" font-size="8" fill="#2a2a2a" stroke="#2a2a2a" stroke-width="0.25">2</text>
<text x="296.78" y="366.8" font-size="8" fill="#2a2a2a" stroke="#2a2a2a" stroke-width="0.25">5</text>
<text x="319.48" y="366.8" font-size="8" fill="#2a2a2a" stroke="#2a2a2a" stroke-width="0.25">8</text>
<text x="305.78" y="376.5" font-size="10" fill="#1e1a1a" stroke="#1e1a1a" stroke-width="0.25">( Days )</text>
<text x="0" y="0" font-size="9.75" fill="#1e1a1a" transform="translate(204.35 357.82) rotate(-90)" stroke="#1e1a1a" stroke-width="0.25">Plasma VEGF-A ( pg / mL )</text>
<line x1="231.8" y1="337.4" x2="231.8" y2="344.4" stroke="#5a5a5a" stroke-width="0.8"/>
<line x1="230.3" y1="337.4" x2="233.3" y2="337.4" stroke="#5a5a5a" stroke-width="0.8"/>
<line x1="230.3" y1="344.4" x2="233.3" y2="344.4" stroke="#5a5a5a" stroke-width="0.8"/>
<line x1="253.8" y1="279.25" x2="253.8" y2="286.25" stroke="#5a5a5a" stroke-width="0.8"/>
<line x1="252.3" y1="279.25" x2="255.3" y2="279.25" stroke="#5a5a5a" stroke-width="0.8"/>
<line x1="252.3" y1="286.25" x2="255.3" y2="286.25" stroke="#5a5a5a" stroke-width="0.8"/>
<line x1="276.7" y1="248.5" x2="276.7" y2="255.5" stroke="#5a5a5a" stroke-width="0.8"/>
<line x1="275.2" y1="248.5" x2="278.2" y2="248.5" stroke="#5a5a5a" stroke-width="0.8"/>
<line x1="275.2" y1="255.5" x2="278.2" y2="255.5" stroke="#5a5a5a" stroke-width="0.8"/>
<line x1="299" y1="286.75" x2="299" y2="293.75" stroke="#5a5a5a" stroke-width="0.8"/>
<line x1="297.5" y1="286.75" x2="300.5" y2="286.75" stroke="#5a5a5a" stroke-width="0.8"/>
<line x1="297.5" y1="293.75" x2="300.5" y2="293.75" stroke="#5a5a5a" stroke-width="0.8"/>
<line x1="321.7" y1="341.4" x2="321.7" y2="348.4" stroke="#5a5a5a" stroke-width="0.8"/>
<line x1="320.2" y1="341.4" x2="323.2" y2="341.4" stroke="#5a5a5a" stroke-width="0.8"/>
<line x1="320.2" y1="348.4" x2="323.2" y2="348.4" stroke="#5a5a5a" stroke-width="0.8"/>
<line x1="231.8" y1="333.9" x2="231.8" y2="341.9" stroke="#5a5a5a" stroke-width="0.8"/>
<line x1="230.3" y1="333.9" x2="233.3" y2="333.9" stroke="#5a5a5a" stroke-width="0.8"/>
<line x1="230.3" y1="341.9" x2="233.3" y2="341.9" stroke="#5a5a5a" stroke-width="0.8"/>
<line x1="253.8" y1="336.6" x2="253.8" y2="344.6" stroke="#5a5a5a" stroke-width="0.8"/>
<line x1="252.3" y1="336.6" x2="255.3" y2="336.6" stroke="#5a5a5a" stroke-width="0.8"/>
<line x1="252.3" y1="344.6" x2="255.3" y2="344.6" stroke="#5a5a5a" stroke-width="0.8"/>
<line x1="276.7" y1="332" x2="276.7" y2="340" stroke="#5a5a5a" stroke-width="0.8"/>
<line x1="275.2" y1="332" x2="278.2" y2="332" stroke="#5a5a5a" stroke-width="0.8"/>
<line x1="275.2" y1="340" x2="278.2" y2="340" stroke="#5a5a5a" stroke-width="0.8"/>
<line x1="299" y1="333.1" x2="299" y2="341.1" stroke="#5a5a5a" stroke-width="0.8"/>
<line x1="297.5" y1="333.1" x2="300.5" y2="333.1" stroke="#5a5a5a" stroke-width="0.8"/>
<line x1="297.5" y1="341.1" x2="300.5" y2="341.1" stroke="#5a5a5a" stroke-width="0.8"/>
<line x1="321.7" y1="337.4" x2="321.7" y2="345.4" stroke="#5a5a5a" stroke-width="0.8"/>
<line x1="320.2" y1="337.4" x2="323.2" y2="337.4" stroke="#5a5a5a" stroke-width="0.8"/>
<line x1="320.2" y1="345.4" x2="323.2" y2="345.4" stroke="#5a5a5a" stroke-width="0.8"/>
<path d="M250.6 282.6H248.6V333.8H250.6" fill="none" stroke="#8c8c8c" stroke-width="0.8"/>
<polyline points="231.8,344.6 253.8,344 276.7,340.6 299,344 321.7,342.5" fill="none" stroke="#231815" stroke-width="1.7" stroke-linejoin="round" stroke-dasharray="6 3.5"/>
<polyline points="231.8,346 253.8,335.2 276.7,333 299,335.7 321.7,344" fill="none" stroke="#e3101c" stroke-width="1.7" stroke-linejoin="round" stroke-dasharray="6 3.5"/>
<polyline points="231.8,337.9 253.8,340.6 276.7,336 299,337.1 321.7,341.4" fill="none" stroke="#231815" stroke-width="1.7" stroke-linejoin="round"/>
<polyline points="231.8,341.4 253.8,283.25 276.7,252.5 299,290.75 321.7,345.4" fill="none" stroke="#e3101c" stroke-width="1.7" stroke-linejoin="round"/>
<circle cx="231.8" cy="344.6" r="2.6" fill="#fff" stroke="#231815" stroke-width="0.9"/>
<circle cx="253.8" cy="344" r="2.6" fill="#fff" stroke="#231815" stroke-width="0.9"/>
<circle cx="276.7" cy="340.6" r="2.6" fill="#fff" stroke="#231815" stroke-width="0.9"/>
<circle cx="299" cy="344" r="2.6" fill="#fff" stroke="#231815" stroke-width="0.9"/>
<circle cx="321.7" cy="342.5" r="2.6" fill="#fff" stroke="#231815" stroke-width="0.9"/>
<path d="M231.8 342.52L234.6 348.32L229 348.32Z" fill="#fff" stroke="#e3101c" stroke-width="0.9"/>
<path d="M253.8 331.72L256.6 337.52L251 337.52Z" fill="#fff" stroke="#e3101c" stroke-width="0.9"/>
<path d="M276.7 329.52L279.5 335.32L273.9 335.32Z" fill="#fff" stroke="#e3101c" stroke-width="0.9"/>
<path d="M299 332.22L301.8 338.02L296.2 338.02Z" fill="#fff" stroke="#e3101c" stroke-width="0.9"/>
<path d="M321.7 340.52L324.5 346.32L318.9 346.32Z" fill="#fff" stroke="#e3101c" stroke-width="0.9"/>
<circle cx="231.8" cy="337.9" r="2.4" fill="#231815"/>
<circle cx="253.8" cy="340.6" r="2.4" fill="#231815"/>
<circle cx="276.7" cy="336" r="2.4" fill="#231815"/>
<circle cx="299" cy="337.1" r="2.4" fill="#231815"/>
<circle cx="321.7" cy="341.4" r="2.4" fill="#231815"/>
<path d="M231.8 337.92L234.6 343.72L229 343.72Z" fill="#e3101c"/>
<path d="M253.8 279.77L256.6 285.57L251 285.57Z" fill="#e3101c"/>
<path d="M276.7 249.02L279.5 254.82L273.9 254.82Z" fill="#e3101c"/>
<path d="M299 287.27L301.8 293.07L296.2 293.07Z" fill="#e3101c"/>
<path d="M321.7 341.92L324.5 347.72L318.9 347.72Z" fill="#e3101c"/>
<text x="281.52" y="257.9" font-size="11.5" fill="#585858" stroke="#585858" stroke-width="0.25">**</text>
<text x="237.52" y="297.2" font-size="11.5" fill="#585858" stroke="#585858" stroke-width="0.25">**</text>
<text x="303.32" y="295.3" font-size="11.5" fill="#585858" stroke="#585858" stroke-width="0.25">**</text>
<text x="358.32" y="188.41" font-size="17.6" font-weight="bold" fill="#000">F</text>
<line x1="378.9" y1="189" x2="397.65" y2="189" stroke="#e3101c" stroke-width="1.9"/>
<path d="M388.27 184.48L391.91 192.02L384.63 192.02Z" fill="#e3101c"/>
<line x1="378.9" y1="201.9" x2="397.65" y2="201.9" stroke="#231815" stroke-width="1.9"/>
<circle cx="388.27" cy="201.9" r="3.24" fill="#231815"/>
<line x1="378.9" y1="213.9" x2="384.88" y2="213.9" stroke="#e3101c" stroke-width="1.9"/>
<line x1="394.57" y1="213.9" x2="397.65" y2="213.9" stroke="#e3101c" stroke-width="1.9"/>
<path d="M388.27 209.2L392.05 217.03L384.5 217.03Z" fill="#fff" stroke="#e3101c" stroke-width="0.9"/>
<line x1="378.9" y1="226.2" x2="384.88" y2="226.2" stroke="#231815" stroke-width="1.9"/>
<line x1="394.57" y1="226.2" x2="397.65" y2="226.2" stroke="#231815" stroke-width="1.9"/>
<circle cx="388.27" cy="226.2" r="3.38" fill="#fff" stroke="#231815" stroke-width="0.9"/>
<text x="405.5" y="192.91" font-size="9.75" fill="#1e1a1a" stroke="#1e1a1a" stroke-width="0.25">HL + Plg</text>
<text x="443.44" y="187.56" font-size="7.3" fill="#1e1a1a" stroke="#1e1a1a" stroke-width="0.25">+/+</text>
<text x="457.22" y="192.91" font-size="9.75" fill="#1e1a1a" stroke="#1e1a1a" stroke-width="0.25">+ tPA</text>
<text x="405.5" y="205.21" font-size="9.75" fill="#1e1a1a" stroke="#1e1a1a" stroke-width="0.25">HL + Plg</text>
<text x="443.44" y="199.86" font-size="7.3" fill="#1e1a1a" stroke="#1e1a1a" stroke-width="0.25">+/+</text>
<text x="457.22" y="205.21" font-size="9.75" fill="#1e1a1a" stroke="#1e1a1a" stroke-width="0.25">+ BSA-PBS</text>
<text x="405.5" y="217.61" font-size="9.75" fill="#1e1a1a" stroke="#1e1a1a" stroke-width="0.25">HL + Plg</text>
<text x="445.42" y="211.91" font-size="8.6" fill="#1e1a1a" stroke="#1e1a1a" stroke-width="0.25">-/-</text>
<text x="457.22" y="217.61" font-size="9.75" fill="#1e1a1a" stroke="#1e1a1a" stroke-width="0.25">+ tPA</text>
<text x="405.5" y="229.61" font-size="9.75" fill="#1e1a1a" stroke="#1e1a1a" stroke-width="0.25">HL + Plg</text>
<text x="445.42" y="223.91" font-size="8.6" fill="#1e1a1a" stroke="#1e1a1a" stroke-width="0.25">-/-</text>
<text x="457.22" y="229.61" font-size="9.75" fill="#1e1a1a" stroke="#1e1a1a" stroke-width="0.25">+ BSA-PBS</text>
<line x1="396.7" y1="240.75" x2="396.7" y2="356.3" stroke="#1e1614" stroke-width="1.5"/>
<line x1="396.7" y1="242" x2="399.7" y2="242" stroke="#1e1614" stroke-width="1.2"/>
<text x="384.91" y="244.8" font-size="8" fill="#2a2a2a" stroke="#2a2a2a" stroke-width="0.25">60</text>
<line x1="396.7" y1="279.3" x2="399.7" y2="279.3" stroke="#1e1614" stroke-width="1.2"/>
<text x="384.91" y="282.1" font-size="8" fill="#2a2a2a" stroke="#2a2a2a" stroke-width="0.25">40</text>
<line x1="396.7" y1="317" x2="399.7" y2="317" stroke="#1e1614" stroke-width="1.2"/>
<text x="384.91" y="319.8" font-size="8" fill="#2a2a2a" stroke="#2a2a2a" stroke-width="0.25">20</text>
<line x1="396.7" y1="355.5" x2="399.7" y2="355.5" stroke="#1e1614" stroke-width="1.2"/>
<text x="389.36" y="358.3" font-size="8" fill="#2a2a2a" stroke="#2a2a2a" stroke-width="0.25">0</text>
<line x1="395.95" y1="356.3" x2="510.6" y2="356.3" stroke="#1e1614" stroke-width="1.5"/>
<line x1="419" y1="356.3" x2="419" y2="353.5" stroke="#1e1614" stroke-width="1.2"/>
<line x1="441.4" y1="356.3" x2="441.4" y2="353.5" stroke="#1e1614" stroke-width="1.2"/>
<line x1="464" y1="356.3" x2="464" y2="353.5" stroke="#1e1614" stroke-width="1.2"/>
<line x1="486.4" y1="356.3" x2="486.4" y2="353.5" stroke="#1e1614" stroke-width="1.2"/>
<line x1="510.6" y1="356.3" x2="510.6" y2="353.5" stroke="#1e1614" stroke-width="1.2"/>
<text x="405.48" y="366.8" font-size="8" fill="#2a2a2a" stroke="#2a2a2a" stroke-width="0.25">0</text>
<text x="427.97" y="366.8" font-size="8" fill="#2a2a2a" stroke="#2a2a2a" stroke-width="0.25">1</text>
<text x="450.48" y="366.8" font-size="8" fill="#2a2a2a" stroke="#2a2a2a" stroke-width="0.25">2</text>
<text x="473.38" y="366.8" font-size="8" fill="#2a2a2a" stroke="#2a2a2a" stroke-width="0.25">5</text>
<text x="495.48" y="366.8" font-size="8" fill="#2a2a2a" stroke="#2a2a2a" stroke-width="0.25">8</text>
<text x="483.08" y="376.5" font-size="10" fill="#1e1a1a" stroke="#1e1a1a" stroke-width="0.25">( Days )</text>
<text x="0" y="0" font-size="9.75" fill="#1e1a1a" transform="translate(379.95 357.82) rotate(-90)" stroke="#1e1a1a" stroke-width="0.25">Plasma VEGF-A ( pg / mL )</text>
<line x1="407.7" y1="337" x2="407.7" y2="344" stroke="#5a5a5a" stroke-width="0.8"/>
<line x1="406.2" y1="337" x2="409.2" y2="337" stroke="#5a5a5a" stroke-width="0.8"/>
<line x1="406.2" y1="344" x2="409.2" y2="344" stroke="#5a5a5a" stroke-width="0.8"/>
<line x1="430.3" y1="273.9" x2="430.3" y2="280.9" stroke="#5a5a5a" stroke-width="0.8"/>
<line x1="428.8" y1="273.9" x2="431.8" y2="273.9" stroke="#5a5a5a" stroke-width="0.8"/>
<line x1="428.8" y1="280.9" x2="431.8" y2="280.9" stroke="#5a5a5a" stroke-width="0.8"/>
<line x1="452.7" y1="241.3" x2="452.7" y2="248.3" stroke="#5a5a5a" stroke-width="0.8"/>
<line x1="451.2" y1="241.3" x2="454.2" y2="241.3" stroke="#5a5a5a" stroke-width="0.8"/>
<line x1="451.2" y1="248.3" x2="454.2" y2="248.3" stroke="#5a5a5a" stroke-width="0.8"/>
<line x1="475.6" y1="282" x2="475.6" y2="289" stroke="#5a5a5a" stroke-width="0.8"/>
<line x1="474.1" y1="282" x2="477.1" y2="282" stroke="#5a5a5a" stroke-width="0.8"/>
<line x1="474.1" y1="289" x2="477.1" y2="289" stroke="#5a5a5a" stroke-width="0.8"/>
<line x1="497.7" y1="337.7" x2="497.7" y2="344.7" stroke="#5a5a5a" stroke-width="0.8"/>
<line x1="496.2" y1="337.7" x2="499.2" y2="337.7" stroke="#5a5a5a" stroke-width="0.8"/>
<line x1="496.2" y1="344.7" x2="499.2" y2="344.7" stroke="#5a5a5a" stroke-width="0.8"/>
<line x1="407.7" y1="334.5" x2="407.7" y2="342.5" stroke="#5a5a5a" stroke-width="0.8"/>
<line x1="406.2" y1="334.5" x2="409.2" y2="334.5" stroke="#5a5a5a" stroke-width="0.8"/>
<line x1="406.2" y1="342.5" x2="409.2" y2="342.5" stroke="#5a5a5a" stroke-width="0.8"/>
<line x1="430.3" y1="337" x2="430.3" y2="345" stroke="#5a5a5a" stroke-width="0.8"/>
<line x1="428.8" y1="337" x2="431.8" y2="337" stroke="#5a5a5a" stroke-width="0.8"/>
<line x1="428.8" y1="345" x2="431.8" y2="345" stroke="#5a5a5a" stroke-width="0.8"/>
<line x1="452.7" y1="331.8" x2="452.7" y2="339.8" stroke="#5a5a5a" stroke-width="0.8"/>
<line x1="451.2" y1="331.8" x2="454.2" y2="331.8" stroke="#5a5a5a" stroke-width="0.8"/>
<line x1="451.2" y1="339.8" x2="454.2" y2="339.8" stroke="#5a5a5a" stroke-width="0.8"/>
<line x1="475.6" y1="336.4" x2="475.6" y2="344.4" stroke="#5a5a5a" stroke-width="0.8"/>
<line x1="474.1" y1="336.4" x2="477.1" y2="336.4" stroke="#5a5a5a" stroke-width="0.8"/>
<line x1="474.1" y1="344.4" x2="477.1" y2="344.4" stroke="#5a5a5a" stroke-width="0.8"/>
<line x1="497.7" y1="337.2" x2="497.7" y2="345.2" stroke="#5a5a5a" stroke-width="0.8"/>
<line x1="496.2" y1="337.2" x2="499.2" y2="337.2" stroke="#5a5a5a" stroke-width="0.8"/>
<line x1="496.2" y1="345.2" x2="499.2" y2="345.2" stroke="#5a5a5a" stroke-width="0.8"/>
<path d="M424.5 279.8H422.5V347.7H424.5" fill="none" stroke="#8c8c8c" stroke-width="0.8"/>
<polyline points="407.7,345.8 430.3,339.9 452.7,340.4 475.6,336.9 497.7,337.2" fill="none" stroke="#231815" stroke-width="1.7" stroke-linejoin="round" stroke-dasharray="6 3.5"/>
<polyline points="407.7,348.5 430.3,345.8 452.7,342.5 475.6,342.5 497.7,340.4" fill="none" stroke="#e3101c" stroke-width="1.7" stroke-linejoin="round" stroke-dasharray="6 3.5"/>
<polyline points="407.7,338.5 430.3,341 452.7,335.8 475.6,340.4 497.7,341.2" fill="none" stroke="#231815" stroke-width="1.7" stroke-linejoin="round"/>
<polyline points="407.7,341 430.3,277.9 452.7,245.3 475.6,286 497.7,341.7" fill="none" stroke="#e3101c" stroke-width="1.7" stroke-linejoin="round"/>
<circle cx="407.7" cy="345.8" r="2.6" fill="#fff" stroke="#231815" stroke-width="0.9"/>
<circle cx="430.3" cy="339.9" r="2.6" fill="#fff" stroke="#231815" stroke-width="0.9"/>
<circle cx="452.7" cy="340.4" r="2.6" fill="#fff" stroke="#231815" stroke-width="0.9"/>
<circle cx="475.6" cy="336.9" r="2.6" fill="#fff" stroke="#231815" stroke-width="0.9"/>
<circle cx="497.7" cy="337.2" r="2.6" fill="#fff" stroke="#231815" stroke-width="0.9"/>
<path d="M407.7 345.02L410.5 350.82L404.9 350.82Z" fill="#fff" stroke="#e3101c" stroke-width="0.9"/>
<path d="M430.3 342.32L433.1 348.12L427.5 348.12Z" fill="#fff" stroke="#e3101c" stroke-width="0.9"/>
<path d="M452.7 339.02L455.5 344.82L449.9 344.82Z" fill="#fff" stroke="#e3101c" stroke-width="0.9"/>
<path d="M475.6 339.02L478.4 344.82L472.8 344.82Z" fill="#fff" stroke="#e3101c" stroke-width="0.9"/>
<path d="M497.7 336.92L500.5 342.72L494.9 342.72Z" fill="#fff" stroke="#e3101c" stroke-width="0.9"/>
<circle cx="407.7" cy="338.5" r="2.4" fill="#231815"/>
<circle cx="430.3" cy="341" r="2.4" fill="#231815"/>
<circle cx="452.7" cy="335.8" r="2.4" fill="#231815"/>
<circle cx="475.6" cy="340.4" r="2.4" fill="#231815"/>
<circle cx="497.7" cy="341.2" r="2.4" fill="#231815"/>
<path d="M407.7 337.52L410.5 343.32L404.9 343.32Z" fill="#e3101c"/>
<path d="M430.3 274.42L433.1 280.22L427.5 280.22Z" fill="#e3101c"/>
<path d="M452.7 241.82L455.5 247.62L449.9 247.62Z" fill="#e3101c"/>
<path d="M475.6 282.52L478.4 288.32L472.8 288.32Z" fill="#e3101c"/>
<path d="M497.7 338.22L500.5 344.02L494.9 344.02Z" fill="#e3101c"/>
<text x="457.32" y="251.5" font-size="11.5" fill="#585858" stroke="#585858" stroke-width="0.25">**</text>
<text x="478.82" y="289.7" font-size="11.5" fill="#585858" stroke="#585858" stroke-width="0.25">**</text>
<text x="411.12" y="299.2" font-size="11.5" fill="#585858" stroke="#585858" stroke-width="0.25">**</text>
<text x="0.88" y="403.51" font-size="17.6" font-weight="bold" fill="#000">G</text>
<line x1="39.3" y1="419.5" x2="39.3" y2="535.5" stroke="#1e1614" stroke-width="1.5"/>
<line x1="39.3" y1="420.2" x2="42.3" y2="420.2" stroke="#1e1614" stroke-width="1.2"/>
<text x="27.11" y="423" font-size="8" fill="#2a2a2a" stroke="#2a2a2a" stroke-width="0.25">60</text>
<line x1="39.3" y1="458.3" x2="42.3" y2="458.3" stroke="#1e1614" stroke-width="1.2"/>
<text x="27.11" y="461.1" font-size="8" fill="#2a2a2a" stroke="#2a2a2a" stroke-width="0.25">40</text>
<line x1="39.3" y1="496.7" x2="42.3" y2="496.7" stroke="#1e1614" stroke-width="1.2"/>
<text x="27.11" y="499.5" font-size="8" fill="#2a2a2a" stroke="#2a2a2a" stroke-width="0.25">20</text>
<line x1="39.3" y1="535" x2="42.3" y2="535" stroke="#1e1614" stroke-width="1.2"/>
<text x="31.56" y="537.8" font-size="8" fill="#2a2a2a" stroke="#2a2a2a" stroke-width="0.25">0</text>
<line x1="38.55" y1="535.5" x2="153" y2="535.5" stroke="#1e1614" stroke-width="1.5"/>
<line x1="62.3" y1="535.5" x2="62.3" y2="532.7" stroke="#1e1614" stroke-width="1.2"/>
<line x1="85.4" y1="535.5" x2="85.4" y2="532.7" stroke="#1e1614" stroke-width="1.2"/>
<line x1="107.5" y1="535.5" x2="107.5" y2="532.7" stroke="#1e1614" stroke-width="1.2"/>
<line x1="130" y1="535.5" x2="130" y2="532.7" stroke="#1e1614" stroke-width="1.2"/>
<line x1="153" y1="535.5" x2="153" y2="532.7" stroke="#1e1614" stroke-width="1.2"/>
<text x="48.78" y="545.1" font-size="8" fill="#2a2a2a" stroke="#2a2a2a" stroke-width="0.25">0</text>
<text x="71.27" y="545.1" font-size="8" fill="#2a2a2a" stroke="#2a2a2a" stroke-width="0.25">1</text>
<text x="93.98" y="545.1" font-size="8" fill="#2a2a2a" stroke="#2a2a2a" stroke-width="0.25">2</text>
<text x="116.58" y="545.1" font-size="8" fill="#2a2a2a" stroke="#2a2a2a" stroke-width="0.25">5</text>
<text x="138.98" y="545.1" font-size="8" fill="#2a2a2a" stroke="#2a2a2a" stroke-width="0.25">8</text>
<text x="146.38" y="546.5" font-size="10" fill="#1e1a1a" stroke="#1e1a1a" stroke-width="0.25">( Days )</text>
<text x="0" y="0" font-size="10.15" fill="#1e1a1a" transform="translate(24.09 541.86) rotate(-90)" stroke="#1e1a1a" stroke-width="0.25">Plasma VEGF-A ( pg / mL )</text>
<line x1="73.6" y1="483.2" x2="73.6" y2="523" stroke="#5a5a5a" stroke-width="0.8"/>
<line x1="72.1" y1="483.2" x2="75.1" y2="483.2" stroke="#5a5a5a" stroke-width="0.8"/>
<line x1="72.1" y1="523" x2="75.1" y2="523" stroke="#5a5a5a" stroke-width="0.8"/>
<line x1="96.2" y1="475.2" x2="96.2" y2="509" stroke="#5a5a5a" stroke-width="0.8"/>
<line x1="94.7" y1="475.2" x2="97.7" y2="475.2" stroke="#5a5a5a" stroke-width="0.8"/>
<line x1="94.7" y1="509" x2="97.7" y2="509" stroke="#5a5a5a" stroke-width="0.8"/>
<line x1="118.8" y1="495.5" x2="118.8" y2="516" stroke="#5a5a5a" stroke-width="0.8"/>
<line x1="117.3" y1="495.5" x2="120.3" y2="495.5" stroke="#5a5a5a" stroke-width="0.8"/>
<line x1="117.3" y1="516" x2="120.3" y2="516" stroke="#5a5a5a" stroke-width="0.8"/>
<line x1="141.2" y1="524" x2="141.2" y2="532" stroke="#5a5a5a" stroke-width="0.8"/>
<line x1="139.7" y1="524" x2="142.7" y2="524" stroke="#5a5a5a" stroke-width="0.8"/>
<line x1="139.7" y1="532" x2="142.7" y2="532" stroke="#5a5a5a" stroke-width="0.8"/>
<line x1="51" y1="516" x2="51" y2="523" stroke="#5a5a5a" stroke-width="0.8"/>
<line x1="49.5" y1="516" x2="52.5" y2="516" stroke="#5a5a5a" stroke-width="0.8"/>
<line x1="49.5" y1="523" x2="52.5" y2="523" stroke="#5a5a5a" stroke-width="0.8"/>
<line x1="73.6" y1="483.8" x2="73.6" y2="495" stroke="#5a5a5a" stroke-width="0.8"/>
<line x1="72.1" y1="483.8" x2="75.1" y2="483.8" stroke="#5a5a5a" stroke-width="0.8"/>
<line x1="72.1" y1="495" x2="75.1" y2="495" stroke="#5a5a5a" stroke-width="0.8"/>
<line x1="96.2" y1="470" x2="96.2" y2="486" stroke="#5a5a5a" stroke-width="0.8"/>
<line x1="94.7" y1="470" x2="97.7" y2="470" stroke="#5a5a5a" stroke-width="0.8"/>
<line x1="94.7" y1="486" x2="97.7" y2="486" stroke="#5a5a5a" stroke-width="0.8"/>
<line x1="118.8" y1="482.3" x2="118.8" y2="490" stroke="#5a5a5a" stroke-width="0.8"/>
<line x1="117.3" y1="482.3" x2="120.3" y2="482.3" stroke="#5a5a5a" stroke-width="0.8"/>
<line x1="117.3" y1="490" x2="120.3" y2="490" stroke="#5a5a5a" stroke-width="0.8"/>
<line x1="141.2" y1="496.8" x2="141.2" y2="516" stroke="#5a5a5a" stroke-width="0.8"/>
<line x1="139.7" y1="496.8" x2="142.7" y2="496.8" stroke="#5a5a5a" stroke-width="0.8"/>
<line x1="139.7" y1="516" x2="142.7" y2="516" stroke="#5a5a5a" stroke-width="0.8"/>
<line x1="73.6" y1="456" x2="73.6" y2="466" stroke="#5a5a5a" stroke-width="0.8"/>
<line x1="72.1" y1="456" x2="75.1" y2="456" stroke="#5a5a5a" stroke-width="0.8"/>
<line x1="72.1" y1="466" x2="75.1" y2="466" stroke="#5a5a5a" stroke-width="0.8"/>
<line x1="96.2" y1="424.5" x2="96.2" y2="433" stroke="#5a5a5a" stroke-width="0.8"/>
<line x1="94.7" y1="424.5" x2="97.7" y2="424.5" stroke="#5a5a5a" stroke-width="0.8"/>
<line x1="94.7" y1="433" x2="97.7" y2="433" stroke="#5a5a5a" stroke-width="0.8"/>
<line x1="118.8" y1="463.5" x2="118.8" y2="472" stroke="#5a5a5a" stroke-width="0.8"/>
<line x1="117.3" y1="463.5" x2="120.3" y2="463.5" stroke="#5a5a5a" stroke-width="0.8"/>
<line x1="117.3" y1="472" x2="120.3" y2="472" stroke="#5a5a5a" stroke-width="0.8"/>
<line x1="141.2" y1="519" x2="141.2" y2="527" stroke="#5a5a5a" stroke-width="0.8"/>
<line x1="139.7" y1="519" x2="142.7" y2="519" stroke="#5a5a5a" stroke-width="0.8"/>
<line x1="139.7" y1="527" x2="142.7" y2="527" stroke="#5a5a5a" stroke-width="0.8"/>
<line x1="51" y1="519" x2="51" y2="528" stroke="#5a5a5a" stroke-width="0.8"/>
<line x1="49.5" y1="519" x2="52.5" y2="519" stroke="#5a5a5a" stroke-width="0.8"/>
<line x1="49.5" y1="528" x2="52.5" y2="528" stroke="#5a5a5a" stroke-width="0.8"/>
<line x1="73.6" y1="519" x2="73.6" y2="525" stroke="#5a5a5a" stroke-width="0.8"/>
<line x1="72.1" y1="519" x2="75.1" y2="519" stroke="#5a5a5a" stroke-width="0.8"/>
<line x1="72.1" y1="525" x2="75.1" y2="525" stroke="#5a5a5a" stroke-width="0.8"/>
<line x1="96.2" y1="519" x2="96.2" y2="525" stroke="#5a5a5a" stroke-width="0.8"/>
<line x1="94.7" y1="519" x2="97.7" y2="519" stroke="#5a5a5a" stroke-width="0.8"/>
<line x1="94.7" y1="525" x2="97.7" y2="525" stroke="#5a5a5a" stroke-width="0.8"/>
<line x1="118.8" y1="519" x2="118.8" y2="525" stroke="#5a5a5a" stroke-width="0.8"/>
<line x1="117.3" y1="519" x2="120.3" y2="519" stroke="#5a5a5a" stroke-width="0.8"/>
<line x1="117.3" y1="525" x2="120.3" y2="525" stroke="#5a5a5a" stroke-width="0.8"/>
<path d="M68.25 459.5H66.25V519.2H68.25" fill="none" stroke="#8c8c8c" stroke-width="0.8"/>
<path d="M100.5 428.75H102.5V475.2H100.5" fill="none" stroke="#8c8c8c" stroke-width="0.8"/>
<polyline points="51,522 73.6,522 96.2,522 118.8,522 141.2,521.7" fill="none" stroke="#231815" stroke-width="1.7" stroke-linejoin="round"/>
<polyline points="51,519.2 73.6,502.9 96.2,496.8 118.8,504.8 141.2,528.5" fill="none" stroke="#9b9b9b" stroke-width="1.7" stroke-linejoin="round"/>
<polyline points="51,518.3 73.6,489.4 96.2,478.3 118.8,486.3 141.2,506.3" fill="none" stroke="#1ca84a" stroke-width="1.7" stroke-linejoin="round"/>
<polyline points="51,523.2 73.6,460.75 96.2,428.75 118.8,468 141.2,523.2" fill="none" stroke="#e3101c" stroke-width="1.7" stroke-linejoin="round"/>
<path d="M51 519.4L53.6 522L51 524.6L48.4 522Z" fill="#231815"/>
<path d="M73.6 519.4L76.2 522L73.6 524.6L71 522Z" fill="#231815"/>
<path d="M96.2 519.4L98.8 522L96.2 524.6L93.6 522Z" fill="#231815"/>
<path d="M118.8 519.4L121.4 522L118.8 524.6L116.2 522Z" fill="#231815"/>
<path d="M141.2 519.1L143.8 521.7L141.2 524.3L138.6 521.7Z" fill="#231815"/>
<circle cx="51" cy="519.2" r="2.8" fill="#a2a2a2"/>
<circle cx="73.6" cy="502.9" r="2.8" fill="#a2a2a2"/>
<circle cx="96.2" cy="496.8" r="2.8" fill="#a2a2a2"/>
<circle cx="118.8" cy="504.8" r="2.8" fill="#a2a2a2"/>
<circle cx="141.2" cy="528.5" r="2.8" fill="#a2a2a2"/>
<path d="M51 514.82L53.8 520.62L48.2 520.62Z" fill="#1ca84a"/>
<path d="M73.6 485.92L76.4 491.72L70.8 491.72Z" fill="#1ca84a"/>
<path d="M96.2 474.82L99 480.62L93.4 480.62Z" fill="#1ca84a"/>
<path d="M118.8 482.82L121.6 488.62L116 488.62Z" fill="#1ca84a"/>
<path d="M141.2 502.82L144 508.62L138.4 508.62Z" fill="#1ca84a"/>
<path d="M51 519.72L53.8 525.52L48.2 525.52Z" fill="#e3101c"/>
<path d="M73.6 457.27L76.4 463.07L70.8 463.07Z" fill="#e3101c"/>
<path d="M96.2 425.27L99 431.07L93.4 431.07Z" fill="#e3101c"/>
<path d="M118.8 464.52L121.6 470.32L116 470.32Z" fill="#e3101c"/>
<path d="M141.2 519.72L144 525.52L138.4 525.52Z" fill="#e3101c"/>
<text x="56.77" y="466.4" font-size="11.5" fill="#585858" stroke="#585858" stroke-width="0.25">**</text>
<text x="84.27" y="433.9" font-size="11.5" fill="#585858" stroke="#585858" stroke-width="0.25">**</text>
<text x="117.52" y="463.9" font-size="11.5" fill="#585858" stroke="#585858" stroke-width="0.25">**</text>
<text x="77.77" y="463.3" font-size="8" fill="#585858" stroke="#585858" stroke-width="0.25">†</text>
<text x="121.97" y="468.8" font-size="8" fill="#585858" stroke="#585858" stroke-width="0.25">†</text>
<text x="0" y="0" font-size="8" text-anchor="middle" fill="#585858" transform="translate(109.6 432.5) rotate(-90)" stroke="#585858" stroke-width="0.25">‡‡</text>
<line x1="134.8" y1="417.3" x2="154.5" y2="417.3" stroke="#e3101c" stroke-width="1.9"/>
<path d="M144.65 412.78L148.29 420.32L141.01 420.32Z" fill="#e3101c"/>
<line x1="134.8" y1="430.2" x2="154.5" y2="430.2" stroke="#1ca84a" stroke-width="1.9"/>
<path d="M144.65 425.68L148.29 433.22L141.01 433.22Z" fill="#1ca84a"/>
<line x1="134.8" y1="443.1" x2="154.5" y2="443.1" stroke="#231815" stroke-width="1.9"/>
<circle cx="144.65" cy="443.1" r="3.24" fill="#231815"/>
<line x1="134.8" y1="457" x2="154.5" y2="457" stroke="#a8a8a8" stroke-width="1.9"/>
<circle cx="144.65" cy="457" r="3.36" fill="#a2a2a2"/>
<text x="161.35" y="419.73" font-size="9.8" fill="#1e1a1a" stroke="#1e1a1a" stroke-width="0.25">tPA</text>
<text x="161.35" y="433.23" font-size="9.8" fill="#1e1a1a" stroke="#1e1a1a" stroke-width="0.25">tPA + plasmin inhibitor</text>
<text x="160.7" y="446.43" font-size="9.8" fill="#1e1a1a" stroke="#1e1a1a" stroke-width="0.25">BSA-PBS</text>
<text x="160.7" y="460.43" font-size="9.8" fill="#1e1a1a" stroke="#1e1a1a" stroke-width="0.25">BSA-PBS + plasmin inhibitor</text>
<text x="309.12" y="404.41" font-size="17.6" font-weight="bold" fill="#000">H</text>
<line x1="335.9" y1="415" x2="335.9" y2="530.8" stroke="#1e1614" stroke-width="1.5"/>
<line x1="335.9" y1="415.2" x2="338.9" y2="415.2" stroke="#1e1614" stroke-width="1.2"/>
<text x="323.61" y="418" font-size="8" fill="#2a2a2a" stroke="#2a2a2a" stroke-width="0.25">30</text>
<line x1="335.9" y1="453.5" x2="338.9" y2="453.5" stroke="#1e1614" stroke-width="1.2"/>
<text x="323.61" y="456.3" font-size="8" fill="#2a2a2a" stroke="#2a2a2a" stroke-width="0.25">20</text>
<line x1="335.9" y1="492" x2="338.9" y2="492" stroke="#1e1614" stroke-width="1.2"/>
<text x="323.61" y="494.8" font-size="8" fill="#2a2a2a" stroke="#2a2a2a" stroke-width="0.25">10</text>
<line x1="335.9" y1="530.5" x2="338.9" y2="530.5" stroke="#1e1614" stroke-width="1.2"/>
<text x="328.06" y="533.3" font-size="8" fill="#2a2a2a" stroke="#2a2a2a" stroke-width="0.25">0</text>
<line x1="335.2" y1="530.8" x2="447.5" y2="530.8" stroke="#1e1614" stroke-width="1.5"/>
<line x1="364.6" y1="530.8" x2="364.6" y2="528.3" stroke="#1e1614" stroke-width="1.1"/>
<line x1="392.3" y1="530.8" x2="392.3" y2="528.3" stroke="#1e1614" stroke-width="1.1"/>
<line x1="420" y1="530.8" x2="420" y2="528.3" stroke="#1e1614" stroke-width="1.1"/>
<line x1="447" y1="530.8" x2="447" y2="528.3" stroke="#1e1614" stroke-width="1.1"/>
<text x="347.98" y="539.4" font-size="8" fill="#2a2a2a" stroke="#2a2a2a" stroke-width="0.25">0</text>
<text x="375.47" y="539.4" font-size="8" fill="#2a2a2a" stroke="#2a2a2a" stroke-width="0.25">1</text>
<text x="402.98" y="539.4" font-size="8" fill="#2a2a2a" stroke="#2a2a2a" stroke-width="0.25">2</text>
<text x="430.1" y="539.4" font-size="8" fill="#2a2a2a" stroke="#2a2a2a" stroke-width="0.25">3</text>
<text x="334.94" y="551.4" font-size="8" fill="#1e1a1a" stroke="#1e1a1a" stroke-width="0.25">PBMCs isolated after injection ( Days )</text>
<text x="0" y="0" font-size="8.05" fill="#1e1a1a" transform="translate(321.37 534.81) rotate(-90)" stroke="#1e1a1a" stroke-width="0.25">VEGF-A in Supernatant ( pg / mL )</text>
<line x1="346.75" y1="489.2" x2="346.75" y2="489.8" stroke="#262626" stroke-width="1.2"/>
<line x1="344.85" y1="489.2" x2="348.65" y2="489.2" stroke="#262626" stroke-width="1.2"/>
<line x1="355.05" y1="487.3" x2="355.05" y2="489.2" stroke="#262626" stroke-width="1.2"/>
<line x1="353.15" y1="487.3" x2="356.95" y2="487.3" stroke="#262626" stroke-width="1.2"/>
<rect x="342.6" y="489.8" width="8.3" height="40.5" fill="#231815" stroke="#111" stroke-width="0.4"/>
<rect x="350.9" y="489.2" width="8.3" height="41.1" fill="#e3101c" stroke="#611" stroke-width="0.4"/>
<line x1="374.35" y1="487.7" x2="374.35" y2="493.8" stroke="#262626" stroke-width="1.2"/>
<line x1="372.45" y1="487.7" x2="376.25" y2="487.7" stroke="#262626" stroke-width="1.2"/>
<line x1="382.65" y1="446" x2="382.65" y2="454.6" stroke="#262626" stroke-width="1.2"/>
<line x1="380.75" y1="446" x2="384.55" y2="446" stroke="#262626" stroke-width="1.2"/>
<rect x="370.2" y="493.8" width="8.3" height="36.5" fill="#231815" stroke="#111" stroke-width="0.4"/>
<rect x="378.5" y="454.6" width="8.3" height="75.7" fill="#e3101c" stroke="#611" stroke-width="0.4"/>
<line x1="402.05" y1="491.7" x2="402.05" y2="495.4" stroke="#262626" stroke-width="1.2"/>
<line x1="400.15" y1="491.7" x2="403.95" y2="491.7" stroke="#262626" stroke-width="1.2"/>
<line x1="410.35" y1="441.2" x2="410.35" y2="450.6" stroke="#262626" stroke-width="1.2"/>
<line x1="408.45" y1="441.2" x2="412.25" y2="441.2" stroke="#262626" stroke-width="1.2"/>
<rect x="397.9" y="495.4" width="8.3" height="34.9" fill="#231815" stroke="#111" stroke-width="0.4"/>
<rect x="406.2" y="450.6" width="8.3" height="79.7" fill="#e3101c" stroke="#611" stroke-width="0.4"/>
<line x1="429.25" y1="491.2" x2="429.25" y2="491.7" stroke="#262626" stroke-width="1.2"/>
<line x1="427.35" y1="491.2" x2="431.15" y2="491.2" stroke="#262626" stroke-width="1.2"/>
<line x1="437.55" y1="432.5" x2="437.55" y2="442" stroke="#262626" stroke-width="1.2"/>
<line x1="435.65" y1="432.5" x2="439.45" y2="432.5" stroke="#262626" stroke-width="1.2"/>
<rect x="425.1" y="491.7" width="8.3" height="38.6" fill="#231815" stroke="#111" stroke-width="0.4"/>
<rect x="433.4" y="442" width="8.3" height="88.3" fill="#e3101c" stroke="#611" stroke-width="0.4"/>
<text x="380.36" y="443.9" font-size="11.5" fill="#585858" stroke="#585858" stroke-width="0.25">*</text>
<text x="408.06" y="438.9" font-size="11.5" fill="#585858" stroke="#585858" stroke-width="0.25">*</text>
<text x="435.36" y="430.4" font-size="11.5" fill="#585858" stroke="#585858" stroke-width="0.25">*</text>
<rect x="453.9" y="463.3" width="6.9" height="6.3" fill="#231815"/>
<rect x="453.9" y="476" width="6.9" height="6.5" fill="#e3101c"/>
<text x="465.16" y="469.97" font-size="10.2" fill="#1e1a1a" stroke="#1e1a1a" stroke-width="0.25">BSA-PBS</text>
<text x="465.85" y="482.97" font-size="10.2" fill="#1e1a1a" stroke="#1e1a1a" stroke-width="0.25">tPA</text>
<text x="0.42" y="581.51" font-size="17.6" font-weight="bold" fill="#000">I</text>
<rect x="9.4" y="590.5" width="6.2" height="6.2" fill="#231815" stroke="#555" stroke-width="0.5"/>
<text x="20.25" y="596.8" font-size="9.15" fill="#1e1a1a" stroke="#1e1a1a" stroke-width="0.25">HL + BSA-PBS + IgG Ab</text>
<rect x="9.4" y="602.1" width="6.2" height="6.2" fill="#a6a6a6" stroke="#555" stroke-width="0.5"/>
<text x="20.25" y="608.4" font-size="9.15" fill="#1e1a1a" stroke="#1e1a1a" stroke-width="0.25">HL + BSA-PBS + anti-VEGF-A Ab</text>
<rect x="9.4" y="615.3" width="6.2" height="6.2" fill="#e3101c" stroke="#555" stroke-width="0.5"/>
<text x="20.25" y="621.6" font-size="9.15" fill="#1e1a1a" stroke="#1e1a1a" stroke-width="0.25">HL + tPA + IgG Ab</text>
<rect x="9.4" y="627.7" width="6.2" height="6.2" fill="#1ca84a" stroke="#555" stroke-width="0.5"/>
<text x="20.25" y="634" font-size="9.15" fill="#1e1a1a" stroke="#1e1a1a" stroke-width="0.25">HL + tPA + anti-VEGF-A Ab</text>
<line x1="51.3" y1="652" x2="51.3" y2="766.9" stroke="#1e1614" stroke-width="1.5"/>
<line x1="51.3" y1="652.2" x2="54.3" y2="652.2" stroke="#1e1614" stroke-width="1.2"/>
<text x="30.12" y="655" font-size="8" fill="#2a2a2a" stroke="#2a2a2a" stroke-width="0.25">2400</text>
<line x1="51.3" y1="680.4" x2="54.3" y2="680.4" stroke="#1e1614" stroke-width="1.2"/>
<text x="30.12" y="683.2" font-size="8" fill="#2a2a2a" stroke="#2a2a2a" stroke-width="0.25">1800</text>
<line x1="51.3" y1="708.5" x2="54.3" y2="708.5" stroke="#1e1614" stroke-width="1.2"/>
<text x="30.12" y="711.3" font-size="8" fill="#2a2a2a" stroke="#2a2a2a" stroke-width="0.25">1200</text>
<line x1="51.3" y1="737" x2="54.3" y2="737" stroke="#1e1614" stroke-width="1.2"/>
<text x="34.56" y="739.8" font-size="8" fill="#2a2a2a" stroke="#2a2a2a" stroke-width="0.25">600</text>
<line x1="51.3" y1="765.8" x2="54.3" y2="765.8" stroke="#1e1614" stroke-width="1.2"/>
<text x="43.46" y="768.6" font-size="8" fill="#2a2a2a" stroke="#2a2a2a" stroke-width="0.25">0</text>
<line x1="50.55" y1="766.9" x2="100.4" y2="766.9" stroke="#1e1614" stroke-width="1.5"/>
<line x1="100.4" y1="766.9" x2="100.4" y2="764.3" stroke="#1e1614" stroke-width="1.1"/>
<line x1="62.55" y1="721.3" x2="62.55" y2="724.6" stroke="#262626" stroke-width="1.2"/>
<line x1="60.65" y1="721.3" x2="64.45" y2="721.3" stroke="#262626" stroke-width="1.2"/>
<rect x="58" y="724.6" width="9.1" height="41.8" fill="#231815" stroke="#2a1a1a" stroke-width="0.5"/>
<line x1="71.5" y1="727.7" x2="71.5" y2="732.3" stroke="#262626" stroke-width="1.2"/>
<line x1="69.6" y1="727.7" x2="73.4" y2="727.7" stroke="#262626" stroke-width="1.2"/>
<rect x="67.1" y="732.3" width="8.8" height="34.1" fill="#a6a6a6" stroke="#2a1a1a" stroke-width="0.5"/>
<line x1="80.75" y1="663" x2="80.75" y2="669.4" stroke="#262626" stroke-width="1.2"/>
<line x1="78.85" y1="663" x2="82.65" y2="663" stroke="#262626" stroke-width="1.2"/>
<rect x="76.6" y="669.4" width="8.3" height="97" fill="#e3101c" stroke="#2a1a1a" stroke-width="0.5"/>
<line x1="89.65" y1="722.6" x2="89.65" y2="723.7" stroke="#262626" stroke-width="1.2"/>
<line x1="87.75" y1="722.6" x2="91.55" y2="722.6" stroke="#262626" stroke-width="1.2"/>
<rect x="85.3" y="723.7" width="8.7" height="42.7" fill="#1ca84a" stroke="#2a1a1a" stroke-width="0.5"/>
<path d="M62.7 665.2V653H77.7V659.2" fill="none" stroke="#505050" stroke-width="1.1"/>
<path d="M81.9 658.8V653H89.6V665.6" fill="none" stroke="#505050" stroke-width="1.1"/>
<text x="66.02" y="652.8" font-size="11.5" fill="#585858" stroke="#585858" stroke-width="0.25">**</text>
<text x="81.52" y="652.8" font-size="11.5" fill="#585858" stroke="#585858" stroke-width="0.25">**</text>
<text x="59.12" y="782.16" font-size="9.6" fill="#1e1a1a" stroke="#1e1a1a" stroke-width="0.25">CD11b</text>
<text x="89.2" y="778.6" font-size="5.2" fill="#1e1a1a" stroke="#1e1a1a" stroke-width="0.25">+</text>
<text x="0" y="0" font-size="10.2" fill="#1e1a1a" transform="translate(26.96 739.33) rotate(-90)" stroke="#1e1a1a" stroke-width="0.25">Cell No. ( / μl )</text>
<text x="160.93" y="581.51" font-size="17.6" font-weight="bold" fill="#000">J</text>
<rect x="168.8" y="590.6" width="6.4" height="6.4" fill="#231815" stroke="#555" stroke-width="0.5"/>
<text x="179.95" y="596.98" font-size="9.1" fill="#1e1a1a" stroke="#1e1a1a" stroke-width="0.25">BSA-PBS</text>
<rect x="168.8" y="602.6" width="6.4" height="6.4" fill="#a6a6a6" stroke="#555" stroke-width="0.5"/>
<text x="179.95" y="608.98" font-size="9.1" fill="#1e1a1a" stroke="#1e1a1a" stroke-width="0.25">BSA-PBS + Batroxobin</text>
<rect x="168.8" y="615.3" width="6.4" height="6.4" fill="#e3101c" stroke="#555" stroke-width="0.5"/>
<text x="180.56" y="621.68" font-size="9.1" fill="#1e1a1a" stroke="#1e1a1a" stroke-width="0.25">tPA</text>
<rect x="168.8" y="627.5" width="6.4" height="6.4" fill="#1ca84a" stroke="#555" stroke-width="0.5"/>
<text x="180.56" y="633.88" font-size="9.1" fill="#1e1a1a" stroke="#1e1a1a" stroke-width="0.25">tPA + Batroxobin</text>
<line x1="193.3" y1="651" x2="193.3" y2="767.3" stroke="#1e1614" stroke-width="1.5"/>
<line x1="193.3" y1="651.2" x2="196.3" y2="651.2" stroke="#1e1614" stroke-width="1.2"/>
<text x="173.42" y="654" font-size="8" fill="#2a2a2a" stroke="#2a2a2a" stroke-width="0.25">2400</text>
<line x1="193.3" y1="680.1" x2="196.3" y2="680.1" stroke="#1e1614" stroke-width="1.2"/>
<text x="173.42" y="682.9" font-size="8" fill="#2a2a2a" stroke="#2a2a2a" stroke-width="0.25">1800</text>
<line x1="193.3" y1="708.7" x2="196.3" y2="708.7" stroke="#1e1614" stroke-width="1.2"/>
<text x="173.42" y="711.5" font-size="8" fill="#2a2a2a" stroke="#2a2a2a" stroke-width="0.25">1200</text>
<line x1="193.3" y1="736.8" x2="196.3" y2="736.8" stroke="#1e1614" stroke-width="1.2"/>
<text x="177.86" y="739.6" font-size="8" fill="#2a2a2a" stroke="#2a2a2a" stroke-width="0.25">600</text>
<line x1="193.3" y1="765.4" x2="196.3" y2="765.4" stroke="#1e1614" stroke-width="1.2"/>
<text x="186.76" y="768.2" font-size="8" fill="#2a2a2a" stroke="#2a2a2a" stroke-width="0.25">0</text>
<line x1="192.55" y1="767.3" x2="244.1" y2="767.3" stroke="#1e1614" stroke-width="1.5"/>
<line x1="244.1" y1="767.3" x2="244.1" y2="764.7" stroke="#1e1614" stroke-width="1.1"/>
<line x1="205.45" y1="721.4" x2="205.45" y2="724.8" stroke="#262626" stroke-width="1.2"/>
<line x1="203.55" y1="721.4" x2="207.35" y2="721.4" stroke="#262626" stroke-width="1.2"/>
<rect x="201.2" y="724.8" width="8.5" height="42" fill="#231815" stroke="#2a1a1a" stroke-width="0.5"/>
<line x1="213.95" y1="720.3" x2="213.95" y2="721.4" stroke="#262626" stroke-width="1.2"/>
<line x1="212.05" y1="720.3" x2="215.85" y2="720.3" stroke="#262626" stroke-width="1.2"/>
<rect x="209.7" y="721.4" width="8.5" height="45.4" fill="#a6a6a6" stroke="#2a1a1a" stroke-width="0.5"/>
<line x1="223.05" y1="662.4" x2="223.05" y2="669.6" stroke="#262626" stroke-width="1.2"/>
<line x1="221.15" y1="662.4" x2="224.95" y2="662.4" stroke="#262626" stroke-width="1.2"/>
<rect x="218.8" y="669.6" width="8.5" height="97.2" fill="#e3101c" stroke="#2a1a1a" stroke-width="0.5"/>
<line x1="232.05" y1="695.2" x2="232.05" y2="699.8" stroke="#262626" stroke-width="1.2"/>
<line x1="230.15" y1="695.2" x2="233.95" y2="695.2" stroke="#262626" stroke-width="1.2"/>
<rect x="227.8" y="699.8" width="8.5" height="67" fill="#1ca84a" stroke="#2a1a1a" stroke-width="0.5"/>
<path d="M205.4 666V652.8H220.2V660" fill="none" stroke="#505050" stroke-width="1.1"/>
<path d="M225.1 660V652.8H231.4V666" fill="none" stroke="#505050" stroke-width="1.1"/>
<text x="208.77" y="652.9" font-size="11.5" fill="#585858" stroke="#585858" stroke-width="0.25">**</text>
<text x="226.46" y="652.9" font-size="11.5" fill="#585858" stroke="#585858" stroke-width="0.25">*</text>
<text x="200.72" y="782.16" font-size="9.6" fill="#1e1a1a" stroke="#1e1a1a" stroke-width="0.25">CD11b</text>
<text x="230.8" y="778.6" font-size="5.2" fill="#1e1a1a" stroke="#1e1a1a" stroke-width="0.25">+</text>
<text x="0" y="0" font-size="10.2" fill="#1e1a1a" transform="translate(171.51 738.23) rotate(-90)" stroke="#1e1a1a" stroke-width="0.25">Cell No. ( / μl )</text>
<text x="283.62" y="581.51" font-size="17.6" font-weight="bold" fill="#000">K</text>
<rect x="291.7" y="593.7" width="6.4" height="6.4" fill="#231815" stroke="#555" stroke-width="0.5"/>
<text x="302.93" y="599.94" font-size="8.7" fill="#1e1a1a" stroke="#1e1a1a" stroke-width="0.25">control</text>
<rect x="291.7" y="608.6" width="6.4" height="6.4" fill="#e3101c" stroke="#555" stroke-width="0.5"/>
<text x="303.17" y="614.84" font-size="8.7" fill="#1e1a1a" stroke="#1e1a1a" stroke-width="0.25">tPA</text>
<rect x="291.7" y="624.3" width="6.4" height="6.4" fill="#fff" stroke="#333" stroke-width="0.5"/>
<text x="302.72" y="630.54" font-size="8.7" fill="#1e1a1a" stroke="#1e1a1a" stroke-width="0.25">non-enzymatic tPA</text>
<line x1="317.1" y1="653" x2="317.1" y2="766.5" stroke="#1e1614" stroke-width="1.5"/>
<line x1="317.1" y1="653.1" x2="320.1" y2="653.1" stroke="#1e1614" stroke-width="1.2"/>
<text x="296.32" y="655.9" font-size="8" fill="#2a2a2a" stroke="#2a2a2a" stroke-width="0.25">2400</text>
<line x1="317.1" y1="681.3" x2="320.1" y2="681.3" stroke="#1e1614" stroke-width="1.2"/>
<text x="296.32" y="684.1" font-size="8" fill="#2a2a2a" stroke="#2a2a2a" stroke-width="0.25">1800</text>
<line x1="317.1" y1="709.8" x2="320.1" y2="709.8" stroke="#1e1614" stroke-width="1.2"/>
<text x="296.32" y="712.6" font-size="8" fill="#2a2a2a" stroke="#2a2a2a" stroke-width="0.25">1200</text>
<line x1="317.1" y1="737.7" x2="320.1" y2="737.7" stroke="#1e1614" stroke-width="1.2"/>
<text x="300.76" y="740.5" font-size="8" fill="#2a2a2a" stroke="#2a2a2a" stroke-width="0.25">600</text>
<line x1="317.1" y1="766.5" x2="320.1" y2="766.5" stroke="#1e1614" stroke-width="1.2"/>
<text x="309.66" y="769.3" font-size="8" fill="#2a2a2a" stroke="#2a2a2a" stroke-width="0.25">0</text>
<line x1="316.35" y1="766.5" x2="366.7" y2="766.5" stroke="#1e1614" stroke-width="1.5"/>
<line x1="366.7" y1="766.5" x2="366.7" y2="763.9" stroke="#1e1614" stroke-width="1.1"/>
<line x1="331.4" y1="726.2" x2="331.4" y2="727.4" stroke="#262626" stroke-width="1.2"/>
<line x1="329.5" y1="726.2" x2="333.3" y2="726.2" stroke="#262626" stroke-width="1.2"/>
<rect x="326.1" y="727.4" width="10.6" height="38.6" fill="#231815" stroke="#2a1a1a" stroke-width="0.5"/>
<line x1="342" y1="674.3" x2="342" y2="682.9" stroke="#262626" stroke-width="1.2"/>
<line x1="340.1" y1="674.3" x2="343.9" y2="674.3" stroke="#262626" stroke-width="1.2"/>
<rect x="336.7" y="682.9" width="10.6" height="83.1" fill="#e3101c" stroke="#2a1a1a" stroke-width="0.5"/>
<line x1="352.85" y1="703" x2="352.85" y2="714.5" stroke="#262626" stroke-width="1.2"/>
<line x1="350.95" y1="703" x2="354.75" y2="703" stroke="#262626" stroke-width="1.2"/>
<rect x="347.8" y="714.5" width="10.1" height="51.5" fill="#fff" stroke="#222" stroke-width="0.9"/>
<path d="M331.2 674.9V661.2H342.4V668.6" fill="none" stroke="#505050" stroke-width="1.1"/>
<text x="334.86" y="661.1" font-size="11.5" fill="#585858" stroke="#585858" stroke-width="0.25">*</text>
<text x="325.32" y="782.76" font-size="9.6" fill="#1e1a1a" stroke="#1e1a1a" stroke-width="0.25">CD11b</text>
<text x="355.4" y="779.2" font-size="5.2" fill="#1e1a1a" stroke="#1e1a1a" stroke-width="0.25">+</text>
<text x="0" y="0" font-size="10.2" fill="#1e1a1a" transform="translate(293.01 742.13) rotate(-90)" stroke="#1e1a1a" stroke-width="0.25">Cell No. ( / μl )</text>
<text x="384.82" y="581.51" font-size="17.6" font-weight="bold" fill="#000">L</text>
<rect x="391.8" y="589.75" width="6.7" height="6.7" fill="#231815" stroke="#555" stroke-width="0.5"/>
<text x="402.96" y="596.27" font-size="9.05" fill="#1e1a1a" stroke="#1e1a1a" stroke-width="0.25">BSA-PBS</text>
<rect x="391.8" y="601.95" width="6.7" height="6.7" fill="#a6a6a6" stroke="#555" stroke-width="0.5"/>
<text x="402.96" y="608.47" font-size="9.05" fill="#1e1a1a" stroke="#1e1a1a" stroke-width="0.25">BSA-PBS + plasmin inhibitor</text>
<rect x="391.8" y="614.65" width="6.7" height="6.7" fill="#e3101c" stroke="#555" stroke-width="0.5"/>
<text x="403.56" y="621.17" font-size="9.05" fill="#1e1a1a" stroke="#1e1a1a" stroke-width="0.25">tPA</text>
<rect x="391.8" y="627.35" width="6.7" height="6.7" fill="#1ca84a" stroke="#555" stroke-width="0.5"/>
<text x="403.56" y="633.87" font-size="9.05" fill="#1e1a1a" stroke="#1e1a1a" stroke-width="0.25">tPA + plasmin inhibitor</text>
<line x1="431.9" y1="652" x2="431.9" y2="767.3" stroke="#1e1614" stroke-width="1.5"/>
<line x1="431.9" y1="652.2" x2="434.9" y2="652.2" stroke="#1e1614" stroke-width="1.2"/>
<text x="410.02" y="655" font-size="8" fill="#2a2a2a" stroke="#2a2a2a" stroke-width="0.25">2400</text>
<line x1="431.9" y1="680.8" x2="434.9" y2="680.8" stroke="#1e1614" stroke-width="1.2"/>
<text x="410.02" y="683.6" font-size="8" fill="#2a2a2a" stroke="#2a2a2a" stroke-width="0.25">1800</text>
<line x1="431.9" y1="709.3" x2="434.9" y2="709.3" stroke="#1e1614" stroke-width="1.2"/>
<text x="410.02" y="712.1" font-size="8" fill="#2a2a2a" stroke="#2a2a2a" stroke-width="0.25">1200</text>
<line x1="431.9" y1="737.9" x2="434.9" y2="737.9" stroke="#1e1614" stroke-width="1.2"/>
<text x="414.46" y="740.7" font-size="8" fill="#2a2a2a" stroke="#2a2a2a" stroke-width="0.25">600</text>
<line x1="431.9" y1="766.5" x2="434.9" y2="766.5" stroke="#1e1614" stroke-width="1.2"/>
<text x="423.36" y="769.3" font-size="8" fill="#2a2a2a" stroke="#2a2a2a" stroke-width="0.25">0</text>
<line x1="431.15" y1="767.3" x2="483.1" y2="767.3" stroke="#1e1614" stroke-width="1.5"/>
<line x1="483.1" y1="767.3" x2="483.1" y2="764.7" stroke="#1e1614" stroke-width="1.1"/>
<line x1="444.15" y1="721.4" x2="444.15" y2="724.8" stroke="#262626" stroke-width="1.2"/>
<line x1="442.25" y1="721.4" x2="446.05" y2="721.4" stroke="#262626" stroke-width="1.2"/>
<rect x="439.7" y="724.8" width="8.9" height="42" fill="#231815" stroke="#2a1a1a" stroke-width="0.5"/>
<line x1="452.65" y1="726.3" x2="452.65" y2="728" stroke="#262626" stroke-width="1.2"/>
<line x1="450.75" y1="726.3" x2="454.55" y2="726.3" stroke="#262626" stroke-width="1.2"/>
<rect x="448.6" y="728" width="8.1" height="38.8" fill="#a6a6a6" stroke="#2a1a1a" stroke-width="0.5"/>
<line x1="461.5" y1="662.8" x2="461.5" y2="670.2" stroke="#262626" stroke-width="1.2"/>
<line x1="459.6" y1="662.8" x2="463.4" y2="662.8" stroke="#262626" stroke-width="1.2"/>
<rect x="457.3" y="670.2" width="8.4" height="96.6" fill="#e3101c" stroke="#2a1a1a" stroke-width="0.5"/>
<line x1="470.4" y1="693" x2="470.4" y2="704" stroke="#262626" stroke-width="1.2"/>
<line x1="468.5" y1="693" x2="472.3" y2="693" stroke="#262626" stroke-width="1.2"/>
<rect x="466.2" y="704" width="8.4" height="62.8" fill="#1ca84a" stroke="#2a1a1a" stroke-width="0.5"/>
<path d="M443.9 666V652.6H459.4V659.6" fill="none" stroke="#505050" stroke-width="1.1"/>
<path d="M464 659.6V652.6H470.4V666" fill="none" stroke="#505050" stroke-width="1.1"/>
<text x="446.92" y="652.9" font-size="11.5" fill="#585858" stroke="#585858" stroke-width="0.25">**</text>
<text x="464.36" y="652.9" font-size="11.5" fill="#585858" stroke="#585858" stroke-width="0.25">*</text>
<text x="441.02" y="782.16" font-size="9.6" fill="#1e1a1a" stroke="#1e1a1a" stroke-width="0.25">CD11b</text>
<text x="471.1" y="778.6" font-size="5.2" fill="#1e1a1a" stroke="#1e1a1a" stroke-width="0.25">+</text>
<text x="0" y="0" font-size="10.2" fill="#1e1a1a" transform="translate(407.31 740.33) rotate(-90)" stroke="#1e1a1a" stroke-width="0.25">Cell No. ( / μl )</text>
<text x="179.62" y="811.01" font-size="17.6" font-weight="bold" fill="#000">N</text>
<rect x="203" y="811.25" width="6.5" height="6.5" fill="#231815" stroke="#555" stroke-width="0.5"/>
<text x="216.69" y="817.95" font-size="9.85" fill="#1e1a1a" stroke="#1e1a1a" stroke-width="0.25">BSA-PBS + IgG Ab</text>
<rect x="203" y="823" width="6.5" height="6.5" fill="#a6a6a6" stroke="#555" stroke-width="0.5"/>
<text x="216.69" y="829.7" font-size="9.85" fill="#1e1a1a" stroke="#1e1a1a" stroke-width="0.25">BSA-PBS + anti-c-Kit Ab</text>
<rect x="203" y="835" width="6.5" height="6.5" fill="#e3101c" stroke="#555" stroke-width="0.5"/>
<text x="217.35" y="841.7" font-size="9.85" fill="#1e1a1a" stroke="#1e1a1a" stroke-width="0.25">tPA + IgG Ab</text>
<rect x="203" y="847.25" width="6.5" height="6.5" fill="#1ca84a" stroke="#555" stroke-width="0.5"/>
<text x="217.35" y="853.95" font-size="9.85" fill="#1e1a1a" stroke="#1e1a1a" stroke-width="0.25">tPA + anti-c-Kit Ab</text>
<line x1="237.4" y1="877" x2="237.4" y2="992.5" stroke="#1e1614" stroke-width="1.5"/>
<line x1="237.4" y1="877.7" x2="240.4" y2="877.7" stroke="#1e1614" stroke-width="1.2"/>
<text x="216.32" y="880.5" font-size="8" fill="#2a2a2a" stroke="#2a2a2a" stroke-width="0.25">2400</text>
<line x1="237.4" y1="906.2" x2="240.4" y2="906.2" stroke="#1e1614" stroke-width="1.2"/>
<text x="216.32" y="909" font-size="8" fill="#2a2a2a" stroke="#2a2a2a" stroke-width="0.25">1800</text>
<line x1="237.4" y1="934.6" x2="240.4" y2="934.6" stroke="#1e1614" stroke-width="1.2"/>
<text x="216.32" y="937.4" font-size="8" fill="#2a2a2a" stroke="#2a2a2a" stroke-width="0.25">1200</text>
<line x1="237.4" y1="963.5" x2="240.4" y2="963.5" stroke="#1e1614" stroke-width="1.2"/>
<text x="220.76" y="966.3" font-size="8" fill="#2a2a2a" stroke="#2a2a2a" stroke-width="0.25">600</text>
<line x1="237.4" y1="991.7" x2="240.4" y2="991.7" stroke="#1e1614" stroke-width="1.2"/>
<text x="229.66" y="994.5" font-size="8" fill="#2a2a2a" stroke="#2a2a2a" stroke-width="0.25">0</text>
<line x1="236.65" y1="992.5" x2="288" y2="992.5" stroke="#1e1614" stroke-width="1.5"/>
<line x1="288" y1="992.5" x2="288" y2="989.9" stroke="#1e1614" stroke-width="1.1"/>
<line x1="249.5" y1="946.2" x2="249.5" y2="949.4" stroke="#262626" stroke-width="1.2"/>
<line x1="247.6" y1="946.2" x2="251.4" y2="946.2" stroke="#262626" stroke-width="1.2"/>
<rect x="245.2" y="949.4" width="8.6" height="42.6" fill="#231815" stroke="#2a1a1a" stroke-width="0.5"/>
<line x1="258.2" y1="962.3" x2="258.2" y2="968.1" stroke="#262626" stroke-width="1.2"/>
<line x1="256.3" y1="962.3" x2="260.1" y2="962.3" stroke="#262626" stroke-width="1.2"/>
<rect x="253.8" y="968.1" width="8.8" height="23.9" fill="#a6a6a6" stroke="#2a1a1a" stroke-width="0.5"/>
<line x1="267.5" y1="887.9" x2="267.5" y2="895.2" stroke="#262626" stroke-width="1.2"/>
<line x1="265.6" y1="887.9" x2="269.4" y2="887.9" stroke="#262626" stroke-width="1.2"/>
<rect x="263.4" y="895.2" width="8.2" height="96.8" fill="#e3101c" stroke="#2a1a1a" stroke-width="0.5"/>
<line x1="276.25" y1="959" x2="276.25" y2="961.9" stroke="#262626" stroke-width="1.2"/>
<line x1="274.35" y1="959" x2="278.15" y2="959" stroke="#262626" stroke-width="1.2"/>
<rect x="272.1" y="961.9" width="8.3" height="30.1" fill="#1ca84a" stroke="#2a1a1a" stroke-width="0.5"/>
<path d="M249 890.8V877.7H264.4V884" fill="none" stroke="#505050" stroke-width="1.1"/>
<path d="M268.7 884V877.7H276.3V890.8" fill="none" stroke="#505050" stroke-width="1.1"/>
<path d="M249.6 940.8V934H257.7V946.9" fill="none" stroke="#505050" stroke-width="1.1"/>
<text x="252.52" y="877.8" font-size="11.5" fill="#585858" stroke="#585858" stroke-width="0.25">**</text>
<text x="268.02" y="877.8" font-size="11.5" fill="#585858" stroke="#585858" stroke-width="0.25">**</text>
<text x="251.96" y="934.2" font-size="11.5" fill="#585858" stroke="#585858" stroke-width="0.25">*</text>
<text x="246.02" y="1006.46" font-size="9.6" fill="#1e1a1a" stroke="#1e1a1a" stroke-width="0.25">CD11b</text>
<text x="276.1" y="1002.9" font-size="5.2" fill="#1e1a1a" stroke="#1e1a1a" stroke-width="0.25">+</text>
<text x="0" y="0" font-size="10.2" fill="#1e1a1a" transform="translate(213.11 966.63) rotate(-90)" stroke="#1e1a1a" stroke-width="0.25">Cell No. ( / μl )</text>
<text x="0.42" y="811.01" font-size="17.6" font-weight="bold" fill="#000">M</text>
<line x1="36.9" y1="817.5" x2="55.8" y2="817.5" stroke="#e3101c" stroke-width="1.9"/>
<path d="M46.35 812.98L49.99 820.52L42.71 820.52Z" fill="#e3101c"/>
<line x1="36.9" y1="828.9" x2="55.8" y2="828.9" stroke="#231815" stroke-width="1.9"/>
<circle cx="46.35" cy="828.9" r="3.24" fill="#231815"/>
<line x1="36.9" y1="841.5" x2="42.95" y2="841.5" stroke="#e3101c" stroke-width="1.9"/>
<line x1="52.65" y1="841.5" x2="55.8" y2="841.5" stroke="#e3101c" stroke-width="1.9"/>
<path d="M46.35 836.8L50.13 844.63L42.57 844.63Z" fill="#fff" stroke="#e3101c" stroke-width="0.9"/>
<line x1="36.9" y1="852.9" x2="42.95" y2="852.9" stroke="#231815" stroke-width="1.9"/>
<line x1="52.65" y1="852.9" x2="55.8" y2="852.9" stroke="#231815" stroke-width="1.9"/>
<circle cx="46.35" cy="852.9" r="3.38" fill="#fff" stroke="#231815" stroke-width="0.9"/>
<text x="63.8" y="820.21" font-size="9.75" fill="#1e1a1a" stroke="#1e1a1a" stroke-width="0.25">Plg</text>
<text x="79.24" y="814.85" font-size="7.3" fill="#1e1a1a" stroke="#1e1a1a" stroke-width="0.25">+/+</text>
<text x="93.02" y="820.21" font-size="9.75" fill="#1e1a1a" stroke="#1e1a1a" stroke-width="0.25">+ tPA</text>
<text x="63.8" y="832.21" font-size="9.75" fill="#1e1a1a" stroke="#1e1a1a" stroke-width="0.25">Plg</text>
<text x="79.24" y="826.85" font-size="7.3" fill="#1e1a1a" stroke="#1e1a1a" stroke-width="0.25">+/+</text>
<text x="93.02" y="832.21" font-size="9.75" fill="#1e1a1a" stroke="#1e1a1a" stroke-width="0.25">+ BSA-PBS</text>
<text x="63.8" y="844.21" font-size="9.75" fill="#1e1a1a" stroke="#1e1a1a" stroke-width="0.25">Plg</text>
<text x="80.82" y="838.51" font-size="8.6" fill="#1e1a1a" stroke="#1e1a1a" stroke-width="0.25">-/-</text>
<text x="93.02" y="844.21" font-size="9.75" fill="#1e1a1a" stroke="#1e1a1a" stroke-width="0.25">+ tPA</text>
<text x="63.8" y="855.91" font-size="9.75" fill="#1e1a1a" stroke="#1e1a1a" stroke-width="0.25">Plg</text>
<text x="80.82" y="850.21" font-size="8.6" fill="#1e1a1a" stroke="#1e1a1a" stroke-width="0.25">-/-</text>
<text x="93.02" y="855.91" font-size="9.75" fill="#1e1a1a" stroke="#1e1a1a" stroke-width="0.25">+ BSA-PBS</text>
<line x1="37.1" y1="876.5" x2="37.1" y2="966" stroke="#1e1614" stroke-width="1.5"/>
<line x1="37.1" y1="980.6" x2="37.1" y2="992" stroke="#1e1614" stroke-width="1.5"/>
<path d="M31.7 972.4 C33.1 969.6 34.7 968.5 37.1 971.4 S39.3 974.3 41.7 970.4" fill="none" stroke="#1e1614" stroke-width="1.3" stroke-linecap="round"/>
<path d="M31.7 976.4 C33.1 973.6 34.7 972.5 37.1 975.4 S39.3 978.3 41.7 974.4" fill="none" stroke="#1e1614" stroke-width="1.3" stroke-linecap="round"/>
<line x1="37.1" y1="877.6" x2="40.1" y2="877.6" stroke="#1e1614" stroke-width="1.2"/>
<text x="11.87" y="880.4" font-size="8" fill="#2a2a2a" stroke="#2a2a2a" stroke-width="0.25">10000</text>
<line x1="37.1" y1="915.5" x2="40.1" y2="915.5" stroke="#1e1614" stroke-width="1.2"/>
<text x="16.32" y="918.3" font-size="8" fill="#2a2a2a" stroke="#2a2a2a" stroke-width="0.25">7500</text>
<line x1="37.1" y1="953.3" x2="40.1" y2="953.3" stroke="#1e1614" stroke-width="1.2"/>
<text x="16.32" y="956.1" font-size="8" fill="#2a2a2a" stroke="#2a2a2a" stroke-width="0.25">5000</text>
<line x1="37.1" y1="990.5" x2="40.1" y2="990.5" stroke="#1e1614" stroke-width="1.2"/>
<text x="29.66" y="993.3" font-size="8" fill="#2a2a2a" stroke="#2a2a2a" stroke-width="0.25">0</text>
<line x1="36.35" y1="992" x2="150.8" y2="992" stroke="#1e1614" stroke-width="1.5"/>
<line x1="60.75" y1="992" x2="60.75" y2="989.2" stroke="#1e1614" stroke-width="1.2"/>
<line x1="83.25" y1="992" x2="83.25" y2="989.2" stroke="#1e1614" stroke-width="1.2"/>
<line x1="105.5" y1="992" x2="105.5" y2="989.2" stroke="#1e1614" stroke-width="1.2"/>
<line x1="127.5" y1="992" x2="127.5" y2="989.2" stroke="#1e1614" stroke-width="1.2"/>
<line x1="150.8" y1="992" x2="150.8" y2="989.2" stroke="#1e1614" stroke-width="1.2"/>
<text x="47.03" y="1003.4" font-size="8" fill="#2a2a2a" stroke="#2a2a2a" stroke-width="0.25">0</text>
<text x="68.92" y="1003.4" font-size="8" fill="#2a2a2a" stroke="#2a2a2a" stroke-width="0.25">1</text>
<text x="91.53" y="1003.4" font-size="8" fill="#2a2a2a" stroke="#2a2a2a" stroke-width="0.25">2</text>
<text x="114.03" y="1003.4" font-size="8" fill="#2a2a2a" stroke="#2a2a2a" stroke-width="0.25">5</text>
<text x="136.98" y="1003.4" font-size="8" fill="#2a2a2a" stroke="#2a2a2a" stroke-width="0.25">8</text>
<text x="145.68" y="1004.8" font-size="10" fill="#1e1a1a" stroke="#1e1a1a" stroke-width="0.25">( Days )</text>
<text x="0" y="0" font-size="10" fill="#1e1a1a" transform="translate(13.94 960.64) rotate(-90)" stroke="#1e1a1a" stroke-width="0.25">WBC ( / μl )</text>
<line x1="49.25" y1="908.5" x2="49.25" y2="921.5" stroke="#5a5a5a" stroke-width="0.8"/>
<line x1="47.75" y1="908.5" x2="50.75" y2="908.5" stroke="#5a5a5a" stroke-width="0.8"/>
<line x1="47.75" y1="921.5" x2="50.75" y2="921.5" stroke="#5a5a5a" stroke-width="0.8"/>
<line x1="71.25" y1="907.5" x2="71.25" y2="920.5" stroke="#5a5a5a" stroke-width="0.8"/>
<line x1="69.75" y1="907.5" x2="72.75" y2="907.5" stroke="#5a5a5a" stroke-width="0.8"/>
<line x1="69.75" y1="920.5" x2="72.75" y2="920.5" stroke="#5a5a5a" stroke-width="0.8"/>
<line x1="93.75" y1="904.25" x2="93.75" y2="917.25" stroke="#5a5a5a" stroke-width="0.8"/>
<line x1="92.25" y1="904.25" x2="95.25" y2="904.25" stroke="#5a5a5a" stroke-width="0.8"/>
<line x1="92.25" y1="917.25" x2="95.25" y2="917.25" stroke="#5a5a5a" stroke-width="0.8"/>
<line x1="116.25" y1="904.75" x2="116.25" y2="917.75" stroke="#5a5a5a" stroke-width="0.8"/>
<line x1="114.75" y1="904.75" x2="117.75" y2="904.75" stroke="#5a5a5a" stroke-width="0.8"/>
<line x1="114.75" y1="917.75" x2="117.75" y2="917.75" stroke="#5a5a5a" stroke-width="0.8"/>
<line x1="139.2" y1="905.3" x2="139.2" y2="918.3" stroke="#5a5a5a" stroke-width="0.8"/>
<line x1="137.7" y1="905.3" x2="140.7" y2="905.3" stroke="#5a5a5a" stroke-width="0.8"/>
<line x1="137.7" y1="918.3" x2="140.7" y2="918.3" stroke="#5a5a5a" stroke-width="0.8"/>
<line x1="49.25" y1="925" x2="49.25" y2="935" stroke="#5a5a5a" stroke-width="0.8"/>
<line x1="47.75" y1="925" x2="50.75" y2="925" stroke="#5a5a5a" stroke-width="0.8"/>
<line x1="47.75" y1="935" x2="50.75" y2="935" stroke="#5a5a5a" stroke-width="0.8"/>
<line x1="71.25" y1="922.5" x2="71.25" y2="932.5" stroke="#5a5a5a" stroke-width="0.8"/>
<line x1="69.75" y1="922.5" x2="72.75" y2="922.5" stroke="#5a5a5a" stroke-width="0.8"/>
<line x1="69.75" y1="932.5" x2="72.75" y2="932.5" stroke="#5a5a5a" stroke-width="0.8"/>
<line x1="93.75" y1="925" x2="93.75" y2="935" stroke="#5a5a5a" stroke-width="0.8"/>
<line x1="92.25" y1="925" x2="95.25" y2="925" stroke="#5a5a5a" stroke-width="0.8"/>
<line x1="92.25" y1="935" x2="95.25" y2="935" stroke="#5a5a5a" stroke-width="0.8"/>
<line x1="116.25" y1="924.5" x2="116.25" y2="934.5" stroke="#5a5a5a" stroke-width="0.8"/>
<line x1="114.75" y1="924.5" x2="117.75" y2="924.5" stroke="#5a5a5a" stroke-width="0.8"/>
<line x1="114.75" y1="934.5" x2="117.75" y2="934.5" stroke="#5a5a5a" stroke-width="0.8"/>
<line x1="139.2" y1="923.3" x2="139.2" y2="933.3" stroke="#5a5a5a" stroke-width="0.8"/>
<line x1="137.7" y1="923.3" x2="140.7" y2="923.3" stroke="#5a5a5a" stroke-width="0.8"/>
<line x1="137.7" y1="933.3" x2="140.7" y2="933.3" stroke="#5a5a5a" stroke-width="0.8"/>
<line x1="49.25" y1="927.5" x2="49.25" y2="937" stroke="#5a5a5a" stroke-width="0.8"/>
<line x1="47.75" y1="927.5" x2="50.75" y2="927.5" stroke="#5a5a5a" stroke-width="0.8"/>
<line x1="47.75" y1="937" x2="50.75" y2="937" stroke="#5a5a5a" stroke-width="0.8"/>
<line x1="71.25" y1="900" x2="71.25" y2="909.5" stroke="#5a5a5a" stroke-width="0.8"/>
<line x1="69.75" y1="900" x2="72.75" y2="900" stroke="#5a5a5a" stroke-width="0.8"/>
<line x1="69.75" y1="909.5" x2="72.75" y2="909.5" stroke="#5a5a5a" stroke-width="0.8"/>
<line x1="93.75" y1="879.8" x2="93.75" y2="889.3" stroke="#5a5a5a" stroke-width="0.8"/>
<line x1="92.25" y1="879.8" x2="95.25" y2="879.8" stroke="#5a5a5a" stroke-width="0.8"/>
<line x1="92.25" y1="889.3" x2="95.25" y2="889.3" stroke="#5a5a5a" stroke-width="0.8"/>
<line x1="116.25" y1="914" x2="116.25" y2="923.5" stroke="#5a5a5a" stroke-width="0.8"/>
<line x1="114.75" y1="914" x2="117.75" y2="914" stroke="#5a5a5a" stroke-width="0.8"/>
<line x1="114.75" y1="923.5" x2="117.75" y2="923.5" stroke="#5a5a5a" stroke-width="0.8"/>
<line x1="139.2" y1="926" x2="139.2" y2="935.5" stroke="#5a5a5a" stroke-width="0.8"/>
<line x1="137.7" y1="926" x2="140.7" y2="926" stroke="#5a5a5a" stroke-width="0.8"/>
<line x1="137.7" y1="935.5" x2="140.7" y2="935.5" stroke="#5a5a5a" stroke-width="0.8"/>
<path d="M98.8 883.5H100.8V908H98.8" fill="none" stroke="#8c8c8c" stroke-width="0.8"/>
<polyline points="49.25,916.5 71.25,915.5 93.75,912.5 116.25,912.5 139.2,913" fill="none" stroke="#231815" stroke-width="1.9" stroke-linejoin="round" stroke-dasharray="5 4"/>
<polyline points="49.25,915.5 71.25,914.5 93.75,911.25 116.25,911.75 139.2,912.3" fill="none" stroke="#d5101c" stroke-width="2.3" stroke-linejoin="round" stroke-dasharray="5 4"/>
<polyline points="49.25,930 71.25,927.5 93.75,930 116.25,929.5 139.2,928.3" fill="none" stroke="#231815" stroke-width="1.7" stroke-linejoin="round"/>
<polyline points="49.25,933 71.25,905.5 93.75,885.3 116.25,919.5 139.2,931.5" fill="none" stroke="#e3101c" stroke-width="1.7" stroke-linejoin="round"/>
<circle cx="49.25" cy="916.5" r="2.6" fill="#fff" stroke="#231815" stroke-width="0.9"/>
<circle cx="71.25" cy="915.5" r="2.6" fill="#fff" stroke="#231815" stroke-width="0.9"/>
<circle cx="93.75" cy="912.5" r="2.6" fill="#fff" stroke="#231815" stroke-width="0.9"/>
<circle cx="116.25" cy="912.5" r="2.6" fill="#fff" stroke="#231815" stroke-width="0.9"/>
<circle cx="139.2" cy="913" r="2.6" fill="#fff" stroke="#231815" stroke-width="0.9"/>
<path d="M49.25 911.5L52.47 918.17L46.03 918.17Z" fill="#fff" stroke="#e3101c" stroke-width="0.9"/>
<path d="M71.25 910.5L74.47 917.17L68.03 917.17Z" fill="#fff" stroke="#e3101c" stroke-width="0.9"/>
<path d="M93.75 907.25L96.97 913.92L90.53 913.92Z" fill="#fff" stroke="#e3101c" stroke-width="0.9"/>
<path d="M116.25 907.75L119.47 914.42L113.03 914.42Z" fill="#fff" stroke="#e3101c" stroke-width="0.9"/>
<path d="M139.2 908.3L142.42 914.97L135.98 914.97Z" fill="#fff" stroke="#e3101c" stroke-width="0.9"/>
<circle cx="49.25" cy="930" r="2.4" fill="#231815"/>
<circle cx="71.25" cy="927.5" r="2.4" fill="#231815"/>
<circle cx="93.75" cy="930" r="2.4" fill="#231815"/>
<circle cx="116.25" cy="929.5" r="2.4" fill="#231815"/>
<circle cx="139.2" cy="928.3" r="2.4" fill="#231815"/>
<path d="M49.25 929.52L52.05 935.32L46.45 935.32Z" fill="#e3101c"/>
<path d="M71.25 902.02L74.05 907.82L68.45 907.82Z" fill="#e3101c"/>
<path d="M93.75 881.82L96.55 887.62L90.95 887.62Z" fill="#e3101c"/>
<path d="M116.25 916.02L119.05 921.82L113.45 921.82Z" fill="#e3101c"/>
<path d="M139.2 928.02L142 933.82L136.4 933.82Z" fill="#e3101c"/>
<text x="103.82" y="889.4" font-size="11.5" fill="#585858" stroke="#585858" stroke-width="0.25">**</text>
<text x="338.08" y="811.01" font-size="17.6" font-weight="bold" fill="#000">O</text>
<line x1="365.9" y1="817.5" x2="384.2" y2="817.5" stroke="#e3101c" stroke-width="1.9"/>
<path d="M375.05 812.98L378.69 820.52L371.41 820.52Z" fill="#e3101c"/>
<line x1="365.9" y1="828.9" x2="384.2" y2="828.9" stroke="#231815" stroke-width="1.9"/>
<circle cx="375.05" cy="828.9" r="3.24" fill="#231815"/>
<line x1="365.9" y1="841.5" x2="371.65" y2="841.5" stroke="#e3101c" stroke-width="1.9"/>
<line x1="381.35" y1="841.5" x2="384.2" y2="841.5" stroke="#e3101c" stroke-width="1.9"/>
<path d="M375.05 836.8L378.83 844.63L371.27 844.63Z" fill="#fff" stroke="#e3101c" stroke-width="0.9"/>
<line x1="365.9" y1="852.9" x2="371.65" y2="852.9" stroke="#231815" stroke-width="1.9"/>
<line x1="381.35" y1="852.9" x2="384.2" y2="852.9" stroke="#231815" stroke-width="1.9"/>
<circle cx="375.05" cy="852.9" r="3.38" fill="#fff" stroke="#231815" stroke-width="0.9"/>
<text x="392" y="819.51" font-size="9.75" fill="#1e1a1a" stroke="#1e1a1a" stroke-width="0.25">MMP-9</text>
<text x="423.74" y="814.15" font-size="7.3" fill="#1e1a1a" stroke="#1e1a1a" stroke-width="0.25">+/+</text>
<text x="438.02" y="819.51" font-size="9.75" fill="#1e1a1a" stroke="#1e1a1a" stroke-width="0.25">+ tPA</text>
<text x="392" y="831.61" font-size="9.75" fill="#1e1a1a" stroke="#1e1a1a" stroke-width="0.25">MMP-9</text>
<text x="423.74" y="826.25" font-size="7.3" fill="#1e1a1a" stroke="#1e1a1a" stroke-width="0.25">+/+</text>
<text x="438.02" y="831.61" font-size="9.75" fill="#1e1a1a" stroke="#1e1a1a" stroke-width="0.25">+ BSA-PBS</text>
<text x="392" y="844.21" font-size="9.75" fill="#1e1a1a" stroke="#1e1a1a" stroke-width="0.25">MMP-9</text>
<text x="426.52" y="838.51" font-size="8.6" fill="#1e1a1a" stroke="#1e1a1a" stroke-width="0.25">-/-</text>
<text x="438.02" y="844.21" font-size="9.75" fill="#1e1a1a" stroke="#1e1a1a" stroke-width="0.25">+ tPA</text>
<text x="392" y="855.81" font-size="9.75" fill="#1e1a1a" stroke="#1e1a1a" stroke-width="0.25">MMP-9</text>
<text x="426.52" y="850.11" font-size="8.6" fill="#1e1a1a" stroke="#1e1a1a" stroke-width="0.25">-/-</text>
<text x="438.02" y="855.81" font-size="9.75" fill="#1e1a1a" stroke="#1e1a1a" stroke-width="0.25">+ BSA-PBS</text>
<line x1="373.75" y1="876.5" x2="373.75" y2="966" stroke="#1e1614" stroke-width="1.5"/>
<line x1="373.75" y1="980.6" x2="373.75" y2="992" stroke="#1e1614" stroke-width="1.5"/>
<path d="M368.35 972.4 C369.75 969.6 371.35 968.5 373.75 971.4 S375.95 974.3 378.35 970.4" fill="none" stroke="#1e1614" stroke-width="1.3" stroke-linecap="round"/>
<path d="M368.35 976.4 C369.75 973.6 371.35 972.5 373.75 975.4 S375.95 978.3 378.35 974.4" fill="none" stroke="#1e1614" stroke-width="1.3" stroke-linecap="round"/>
<line x1="373.75" y1="877.6" x2="376.75" y2="877.6" stroke="#1e1614" stroke-width="1.2"/>
<text x="348.57" y="880.4" font-size="8" fill="#2a2a2a" stroke="#2a2a2a" stroke-width="0.25">10000</text>
<line x1="373.75" y1="915.5" x2="376.75" y2="915.5" stroke="#1e1614" stroke-width="1.2"/>
<text x="353.02" y="918.3" font-size="8" fill="#2a2a2a" stroke="#2a2a2a" stroke-width="0.25">7500</text>
<line x1="373.75" y1="953.3" x2="376.75" y2="953.3" stroke="#1e1614" stroke-width="1.2"/>
<text x="353.02" y="956.1" font-size="8" fill="#2a2a2a" stroke="#2a2a2a" stroke-width="0.25">5000</text>
<line x1="373.75" y1="990.5" x2="376.75" y2="990.5" stroke="#1e1614" stroke-width="1.2"/>
<text x="366.36" y="993.3" font-size="8" fill="#2a2a2a" stroke="#2a2a2a" stroke-width="0.25">0</text>
<line x1="373" y1="992" x2="485.8" y2="992" stroke="#1e1614" stroke-width="1.5"/>
<line x1="397.5" y1="992" x2="397.5" y2="989.2" stroke="#1e1614" stroke-width="1.2"/>
<line x1="420" y1="992" x2="420" y2="989.2" stroke="#1e1614" stroke-width="1.2"/>
<line x1="441.5" y1="992" x2="441.5" y2="989.2" stroke="#1e1614" stroke-width="1.2"/>
<line x1="463.3" y1="992" x2="463.3" y2="989.2" stroke="#1e1614" stroke-width="1.2"/>
<line x1="485.8" y1="992" x2="485.8" y2="989.2" stroke="#1e1614" stroke-width="1.2"/>
<text x="384.03" y="1003.4" font-size="8" fill="#2a2a2a" stroke="#2a2a2a" stroke-width="0.25">0</text>
<text x="407.17" y="1003.4" font-size="8" fill="#2a2a2a" stroke="#2a2a2a" stroke-width="0.25">1</text>
<text x="429.78" y="1003.4" font-size="8" fill="#2a2a2a" stroke="#2a2a2a" stroke-width="0.25">2</text>
<text x="452.38" y="1003.4" font-size="8" fill="#2a2a2a" stroke="#2a2a2a" stroke-width="0.25">5</text>
<text x="474.48" y="1003.4" font-size="8" fill="#2a2a2a" stroke="#2a2a2a" stroke-width="0.25">8</text>
<text x="483.78" y="1004.8" font-size="10" fill="#1e1a1a" stroke="#1e1a1a" stroke-width="0.25">( Days )</text>
<text x="0" y="0" font-size="10" fill="#1e1a1a" transform="translate(349.44 960.64) rotate(-90)" stroke="#1e1a1a" stroke-width="0.25">WBC ( / μl )</text>
<line x1="386.25" y1="901.75" x2="386.25" y2="914.75" stroke="#5a5a5a" stroke-width="0.8"/>
<line x1="384.75" y1="901.75" x2="387.75" y2="901.75" stroke="#5a5a5a" stroke-width="0.8"/>
<line x1="384.75" y1="914.75" x2="387.75" y2="914.75" stroke="#5a5a5a" stroke-width="0.8"/>
<line x1="409.5" y1="904.25" x2="409.5" y2="917.25" stroke="#5a5a5a" stroke-width="0.8"/>
<line x1="408" y1="904.25" x2="411" y2="904.25" stroke="#5a5a5a" stroke-width="0.8"/>
<line x1="408" y1="917.25" x2="411" y2="917.25" stroke="#5a5a5a" stroke-width="0.8"/>
<line x1="432" y1="902" x2="432" y2="915" stroke="#5a5a5a" stroke-width="0.8"/>
<line x1="430.5" y1="902" x2="433.5" y2="902" stroke="#5a5a5a" stroke-width="0.8"/>
<line x1="430.5" y1="915" x2="433.5" y2="915" stroke="#5a5a5a" stroke-width="0.8"/>
<line x1="454.6" y1="900" x2="454.6" y2="913" stroke="#5a5a5a" stroke-width="0.8"/>
<line x1="453.1" y1="900" x2="456.1" y2="900" stroke="#5a5a5a" stroke-width="0.8"/>
<line x1="453.1" y1="913" x2="456.1" y2="913" stroke="#5a5a5a" stroke-width="0.8"/>
<line x1="476.7" y1="900.5" x2="476.7" y2="913.5" stroke="#5a5a5a" stroke-width="0.8"/>
<line x1="475.2" y1="900.5" x2="478.2" y2="900.5" stroke="#5a5a5a" stroke-width="0.8"/>
<line x1="475.2" y1="913.5" x2="478.2" y2="913.5" stroke="#5a5a5a" stroke-width="0.8"/>
<line x1="386.25" y1="918.75" x2="386.25" y2="928.75" stroke="#5a5a5a" stroke-width="0.8"/>
<line x1="384.75" y1="918.75" x2="387.75" y2="918.75" stroke="#5a5a5a" stroke-width="0.8"/>
<line x1="384.75" y1="928.75" x2="387.75" y2="928.75" stroke="#5a5a5a" stroke-width="0.8"/>
<line x1="409.5" y1="917.5" x2="409.5" y2="927.5" stroke="#5a5a5a" stroke-width="0.8"/>
<line x1="408" y1="917.5" x2="411" y2="917.5" stroke="#5a5a5a" stroke-width="0.8"/>
<line x1="408" y1="927.5" x2="411" y2="927.5" stroke="#5a5a5a" stroke-width="0.8"/>
<line x1="432" y1="918.75" x2="432" y2="928.75" stroke="#5a5a5a" stroke-width="0.8"/>
<line x1="430.5" y1="918.75" x2="433.5" y2="918.75" stroke="#5a5a5a" stroke-width="0.8"/>
<line x1="430.5" y1="928.75" x2="433.5" y2="928.75" stroke="#5a5a5a" stroke-width="0.8"/>
<line x1="454.6" y1="918" x2="454.6" y2="928" stroke="#5a5a5a" stroke-width="0.8"/>
<line x1="453.1" y1="918" x2="456.1" y2="918" stroke="#5a5a5a" stroke-width="0.8"/>
<line x1="453.1" y1="928" x2="456.1" y2="928" stroke="#5a5a5a" stroke-width="0.8"/>
<line x1="476.7" y1="916" x2="476.7" y2="926" stroke="#5a5a5a" stroke-width="0.8"/>
<line x1="475.2" y1="916" x2="478.2" y2="916" stroke="#5a5a5a" stroke-width="0.8"/>
<line x1="475.2" y1="926" x2="478.2" y2="926" stroke="#5a5a5a" stroke-width="0.8"/>
<line x1="386.25" y1="920" x2="386.25" y2="929.5" stroke="#5a5a5a" stroke-width="0.8"/>
<line x1="384.75" y1="920" x2="387.75" y2="920" stroke="#5a5a5a" stroke-width="0.8"/>
<line x1="384.75" y1="929.5" x2="387.75" y2="929.5" stroke="#5a5a5a" stroke-width="0.8"/>
<line x1="409.5" y1="892" x2="409.5" y2="901.5" stroke="#5a5a5a" stroke-width="0.8"/>
<line x1="408" y1="892" x2="411" y2="892" stroke="#5a5a5a" stroke-width="0.8"/>
<line x1="408" y1="901.5" x2="411" y2="901.5" stroke="#5a5a5a" stroke-width="0.8"/>
<line x1="432" y1="881.5" x2="432" y2="891" stroke="#5a5a5a" stroke-width="0.8"/>
<line x1="430.5" y1="881.5" x2="433.5" y2="881.5" stroke="#5a5a5a" stroke-width="0.8"/>
<line x1="430.5" y1="891" x2="433.5" y2="891" stroke="#5a5a5a" stroke-width="0.8"/>
<line x1="454.6" y1="911" x2="454.6" y2="920.5" stroke="#5a5a5a" stroke-width="0.8"/>
<line x1="453.1" y1="911" x2="456.1" y2="911" stroke="#5a5a5a" stroke-width="0.8"/>
<line x1="453.1" y1="920.5" x2="456.1" y2="920.5" stroke="#5a5a5a" stroke-width="0.8"/>
<line x1="476.7" y1="920.3" x2="476.7" y2="929.8" stroke="#5a5a5a" stroke-width="0.8"/>
<line x1="475.2" y1="920.3" x2="478.2" y2="920.3" stroke="#5a5a5a" stroke-width="0.8"/>
<line x1="475.2" y1="929.8" x2="478.2" y2="929.8" stroke="#5a5a5a" stroke-width="0.8"/>
<path d="M433.75 885.75H435.75V905H433.75" fill="none" stroke="#8c8c8c" stroke-width="0.8"/>
<polyline points="386.25,913.75 409.5,913 432,911 454.6,906.25 476.7,907" fill="none" stroke="#231815" stroke-width="1.9" stroke-linejoin="round" stroke-dasharray="5 4"/>
<polyline points="386.25,908.75 409.5,911.25 432,909 454.6,907 476.7,907.5" fill="none" stroke="#d5101c" stroke-width="2.3" stroke-linejoin="round" stroke-dasharray="5 4"/>
<polyline points="386.25,923.75 409.5,922.5 432,923.75 454.6,923 476.7,921" fill="none" stroke="#231815" stroke-width="1.7" stroke-linejoin="round"/>
<polyline points="386.25,925.5 409.5,897.5 432,887 454.6,916.5 476.7,925.8" fill="none" stroke="#e3101c" stroke-width="1.7" stroke-linejoin="round"/>
<circle cx="386.25" cy="913.75" r="2.6" fill="#fff" stroke="#231815" stroke-width="0.9"/>
<circle cx="409.5" cy="913" r="2.6" fill="#fff" stroke="#231815" stroke-width="0.9"/>
<circle cx="432" cy="911" r="2.6" fill="#fff" stroke="#231815" stroke-width="0.9"/>
<circle cx="454.6" cy="906.25" r="2.6" fill="#fff" stroke="#231815" stroke-width="0.9"/>
<circle cx="476.7" cy="907" r="2.6" fill="#fff" stroke="#231815" stroke-width="0.9"/>
<path d="M386.25 904.75L389.47 911.42L383.03 911.42Z" fill="#fff" stroke="#e3101c" stroke-width="0.9"/>
<path d="M409.5 907.25L412.72 913.92L406.28 913.92Z" fill="#fff" stroke="#e3101c" stroke-width="0.9"/>
<path d="M432 905L435.22 911.67L428.78 911.67Z" fill="#fff" stroke="#e3101c" stroke-width="0.9"/>
<path d="M454.6 903L457.82 909.67L451.38 909.67Z" fill="#fff" stroke="#e3101c" stroke-width="0.9"/>
<path d="M476.7 903.5L479.92 910.17L473.48 910.17Z" fill="#fff" stroke="#e3101c" stroke-width="0.9"/>
<circle cx="386.25" cy="923.75" r="2.4" fill="#231815"/>
<circle cx="409.5" cy="922.5" r="2.4" fill="#231815"/>
<circle cx="432" cy="923.75" r="2.4" fill="#231815"/>
<circle cx="454.6" cy="923" r="2.4" fill="#231815"/>
<circle cx="476.7" cy="921" r="2.4" fill="#231815"/>
<path d="M386.25 922.02L389.05 927.82L383.45 927.82Z" fill="#e3101c"/>
<path d="M409.5 894.02L412.3 899.82L406.7 899.82Z" fill="#e3101c"/>
<path d="M432 883.52L434.8 889.32L429.2 889.32Z" fill="#e3101c"/>
<path d="M454.6 913.02L457.4 918.82L451.8 918.82Z" fill="#e3101c"/>
<path d="M476.7 922.32L479.5 928.12L473.9 928.12Z" fill="#e3101c"/>
<text x="437.76" y="891.65" font-size="11.5" fill="#585858" stroke="#585858" stroke-width="0.25">*</text>
</svg></body></html>
